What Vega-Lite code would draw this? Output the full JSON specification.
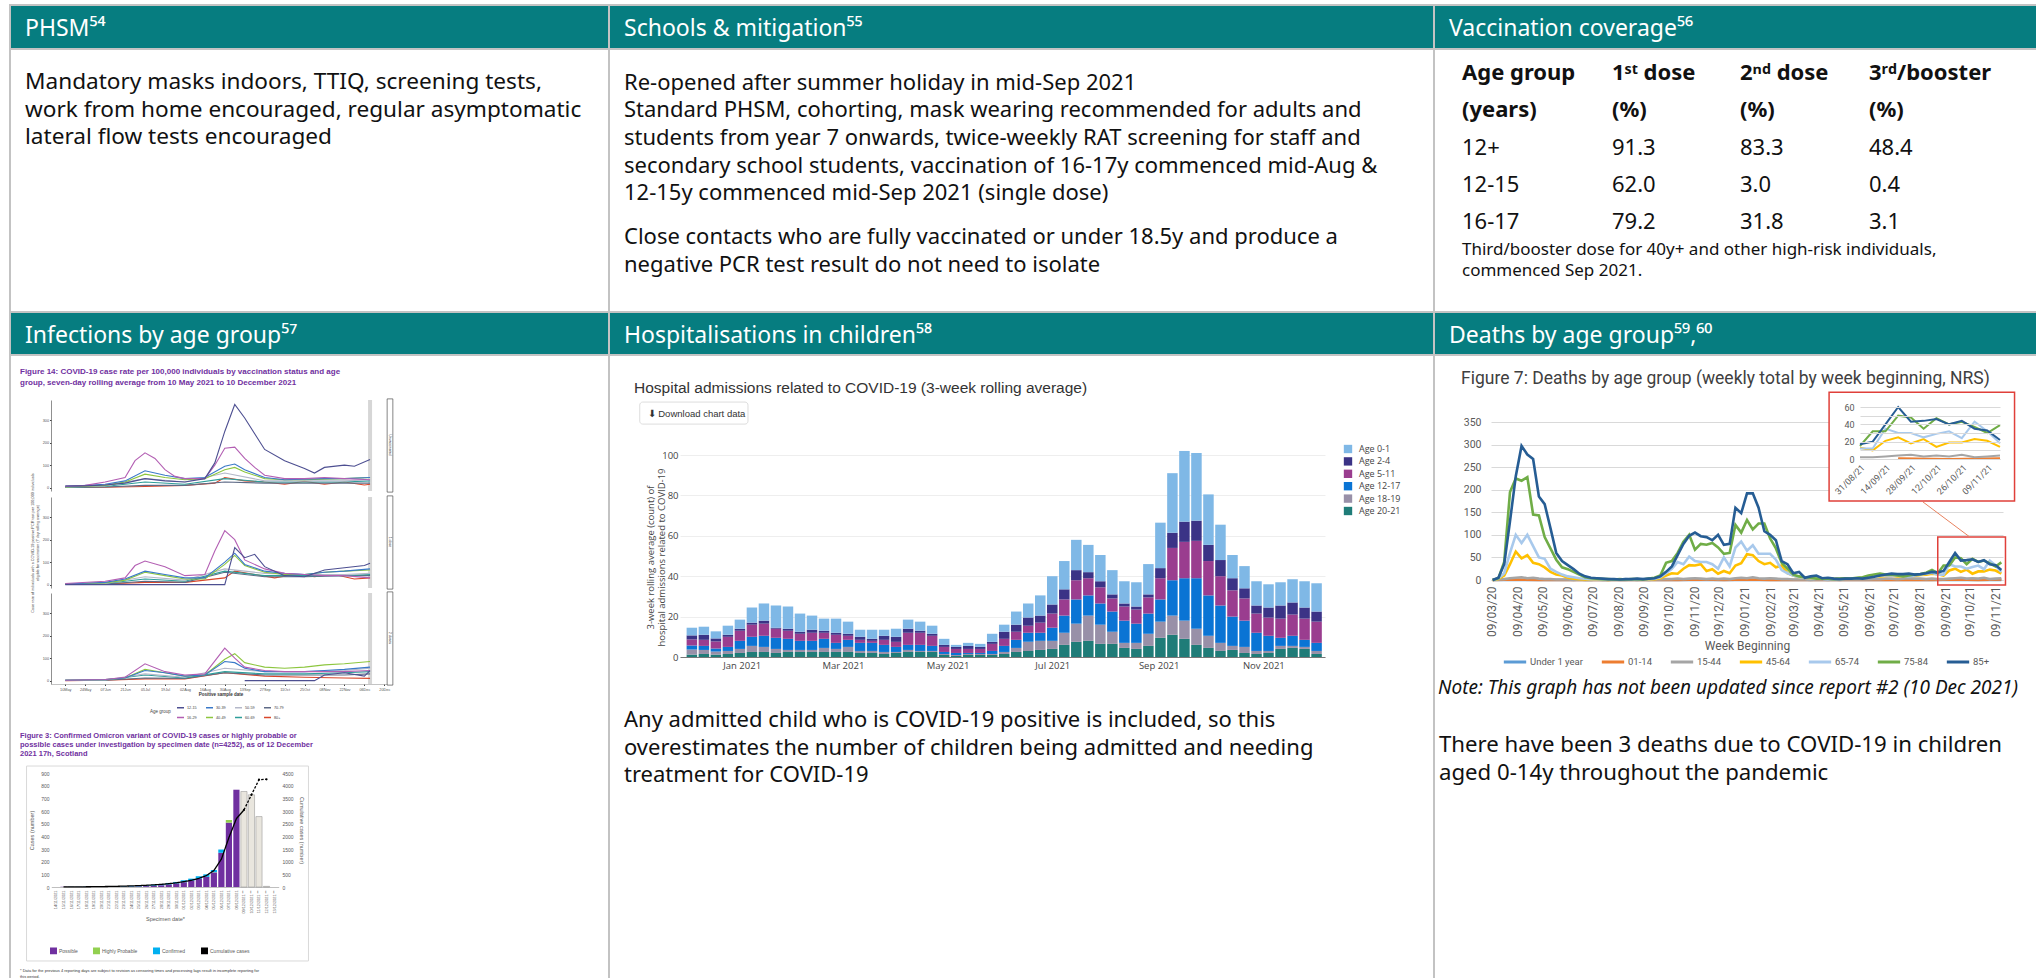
{
"$schema":"https://vega.github.io/schema/vega-lite/v6.json",
"width":2036,"height":978,"autosize":{"type":"none"},"padding":0,"background":"#ffffff",
"config":{"view":{"stroke":null}},
"datasets":{
"ageorder":[{"g":"Age 20-21","o":0},{"g":"Age 18-19","o":1},{"g":"Age 12-17","o":2},{"g":"Age 5-11","o":3},{"g":"Age 2-4","o":4},{"g":"Age 0-1","o":5}],
"hosp":[
{"d":"2020-12-03","g":"Age 20-21","v":1.2},{"d":"2020-12-03","g":"Age 18-19","v":2.5},{"d":"2020-12-03","g":"Age 12-17","v":2},{"d":"2020-12-03","g":"Age 5-11","v":3},{"d":"2020-12-03","g":"Age 2-4","v":2},{"d":"2020-12-03","g":"Age 0-1","v":3.8},
{"d":"2020-12-10","g":"Age 20-21","v":1.5},{"d":"2020-12-10","g":"Age 18-19","v":2},{"d":"2020-12-10","g":"Age 12-17","v":2},{"d":"2020-12-10","g":"Age 5-11","v":3},{"d":"2020-12-10","g":"Age 2-4","v":2.5},{"d":"2020-12-10","g":"Age 0-1","v":4},
{"d":"2020-12-17","g":"Age 20-21","v":1.2},{"d":"2020-12-17","g":"Age 18-19","v":1.5},{"d":"2020-12-17","g":"Age 12-17","v":1.5},{"d":"2020-12-17","g":"Age 5-11","v":3.5},{"d":"2020-12-17","g":"Age 2-4","v":1.5},{"d":"2020-12-17","g":"Age 0-1","v":3.5},
{"d":"2020-12-24","g":"Age 20-21","v":1.5},{"d":"2020-12-24","g":"Age 18-19","v":1.5},{"d":"2020-12-24","g":"Age 12-17","v":2},{"d":"2020-12-24","g":"Age 5-11","v":5},{"d":"2020-12-24","g":"Age 2-4","v":1},{"d":"2020-12-24","g":"Age 0-1","v":4.5},
{"d":"2020-12-31","g":"Age 20-21","v":2},{"d":"2020-12-31","g":"Age 18-19","v":2},{"d":"2020-12-31","g":"Age 12-17","v":4},{"d":"2020-12-31","g":"Age 5-11","v":5},{"d":"2020-12-31","g":"Age 2-4","v":1},{"d":"2020-12-31","g":"Age 0-1","v":4.5},
{"d":"2021-01-07","g":"Age 20-21","v":2.5},{"d":"2021-01-07","g":"Age 18-19","v":3},{"d":"2021-01-07","g":"Age 12-17","v":4.5},{"d":"2021-01-07","g":"Age 5-11","v":6},{"d":"2021-01-07","g":"Age 2-4","v":1},{"d":"2021-01-07","g":"Age 0-1","v":7.5},
{"d":"2021-01-14","g":"Age 20-21","v":2.5},{"d":"2021-01-14","g":"Age 18-19","v":2.5},{"d":"2021-01-14","g":"Age 12-17","v":5.5},{"d":"2021-01-14","g":"Age 5-11","v":6},{"d":"2021-01-14","g":"Age 2-4","v":1.5},{"d":"2021-01-14","g":"Age 0-1","v":8.5},
{"d":"2021-01-21","g":"Age 20-21","v":2},{"d":"2021-01-21","g":"Age 18-19","v":2},{"d":"2021-01-21","g":"Age 12-17","v":5.5},{"d":"2021-01-21","g":"Age 5-11","v":4.5},{"d":"2021-01-21","g":"Age 2-4","v":0.5},{"d":"2021-01-21","g":"Age 0-1","v":11},
{"d":"2021-01-28","g":"Age 20-21","v":2.5},{"d":"2021-01-28","g":"Age 18-19","v":1},{"d":"2021-01-28","g":"Age 12-17","v":5.5},{"d":"2021-01-28","g":"Age 5-11","v":4},{"d":"2021-01-28","g":"Age 2-4","v":1},{"d":"2021-01-28","g":"Age 0-1","v":11},
{"d":"2021-02-04","g":"Age 20-21","v":2.5},{"d":"2021-02-04","g":"Age 18-19","v":1},{"d":"2021-02-04","g":"Age 12-17","v":4.5},{"d":"2021-02-04","g":"Age 5-11","v":3.5},{"d":"2021-02-04","g":"Age 2-4","v":1},{"d":"2021-02-04","g":"Age 0-1","v":9},
{"d":"2021-02-11","g":"Age 20-21","v":2.5},{"d":"2021-02-11","g":"Age 18-19","v":1},{"d":"2021-02-11","g":"Age 12-17","v":4.5},{"d":"2021-02-11","g":"Age 5-11","v":4},{"d":"2021-02-11","g":"Age 2-4","v":1.5},{"d":"2021-02-11","g":"Age 0-1","v":7},
{"d":"2021-02-18","g":"Age 20-21","v":2.5},{"d":"2021-02-18","g":"Age 18-19","v":2},{"d":"2021-02-18","g":"Age 12-17","v":4.5},{"d":"2021-02-18","g":"Age 5-11","v":3},{"d":"2021-02-18","g":"Age 2-4","v":1},{"d":"2021-02-18","g":"Age 0-1","v":6},
{"d":"2021-02-25","g":"Age 20-21","v":2.5},{"d":"2021-02-25","g":"Age 18-19","v":1.5},{"d":"2021-02-25","g":"Age 12-17","v":3},{"d":"2021-02-25","g":"Age 5-11","v":4},{"d":"2021-02-25","g":"Age 2-4","v":1},{"d":"2021-02-25","g":"Age 0-1","v":7},
{"d":"2021-03-04","g":"Age 20-21","v":2.5},{"d":"2021-03-04","g":"Age 18-19","v":2.5},{"d":"2021-03-04","g":"Age 12-17","v":3.5},{"d":"2021-03-04","g":"Age 5-11","v":2},{"d":"2021-03-04","g":"Age 2-4","v":1},{"d":"2021-03-04","g":"Age 0-1","v":6},
{"d":"2021-03-11","g":"Age 20-21","v":2},{"d":"2021-03-11","g":"Age 18-19","v":1},{"d":"2021-03-11","g":"Age 12-17","v":4},{"d":"2021-03-11","g":"Age 5-11","v":1.5},{"d":"2021-03-11","g":"Age 2-4","v":1.5},{"d":"2021-03-11","g":"Age 0-1","v":3.5},
{"d":"2021-03-18","g":"Age 20-21","v":2},{"d":"2021-03-18","g":"Age 18-19","v":1},{"d":"2021-03-18","g":"Age 12-17","v":4},{"d":"2021-03-18","g":"Age 5-11","v":1},{"d":"2021-03-18","g":"Age 2-4","v":1},{"d":"2021-03-18","g":"Age 0-1","v":4.5},
{"d":"2021-03-25","g":"Age 20-21","v":1.5},{"d":"2021-03-25","g":"Age 18-19","v":1},{"d":"2021-03-25","g":"Age 12-17","v":3.5},{"d":"2021-03-25","g":"Age 5-11","v":2.5},{"d":"2021-03-25","g":"Age 2-4","v":2},{"d":"2021-03-25","g":"Age 0-1","v":3},
{"d":"2021-04-01","g":"Age 20-21","v":2},{"d":"2021-04-01","g":"Age 18-19","v":0.5},{"d":"2021-04-01","g":"Age 12-17","v":2.5},{"d":"2021-04-01","g":"Age 5-11","v":2.5},{"d":"2021-04-01","g":"Age 2-4","v":2.5},{"d":"2021-04-01","g":"Age 0-1","v":4},
{"d":"2021-04-08","g":"Age 20-21","v":2.5},{"d":"2021-04-08","g":"Age 18-19","v":1},{"d":"2021-04-08","g":"Age 12-17","v":2.5},{"d":"2021-04-08","g":"Age 5-11","v":6},{"d":"2021-04-08","g":"Age 2-4","v":2},{"d":"2021-04-08","g":"Age 0-1","v":4.5},
{"d":"2021-04-15","g":"Age 20-21","v":2.5},{"d":"2021-04-15","g":"Age 18-19","v":0.5},{"d":"2021-04-15","g":"Age 12-17","v":3},{"d":"2021-04-15","g":"Age 5-11","v":6},{"d":"2021-04-15","g":"Age 2-4","v":1},{"d":"2021-04-15","g":"Age 0-1","v":4.5},
{"d":"2021-04-22","g":"Age 20-21","v":2.5},{"d":"2021-04-22","g":"Age 18-19","v":0.5},{"d":"2021-04-22","g":"Age 12-17","v":2.5},{"d":"2021-04-22","g":"Age 5-11","v":5},{"d":"2021-04-22","g":"Age 2-4","v":1},{"d":"2021-04-22","g":"Age 0-1","v":4},
{"d":"2021-04-29","g":"Age 20-21","v":1},{"d":"2021-04-29","g":"Age 18-19","v":0.5},{"d":"2021-04-29","g":"Age 12-17","v":1},{"d":"2021-04-29","g":"Age 5-11","v":2.5},{"d":"2021-04-29","g":"Age 2-4","v":1},{"d":"2021-04-29","g":"Age 0-1","v":3},
{"d":"2021-05-06","g":"Age 20-21","v":0.5},{"d":"2021-05-06","g":"Age 18-19","v":0.5},{"d":"2021-05-06","g":"Age 12-17","v":1},{"d":"2021-05-06","g":"Age 5-11","v":2},{"d":"2021-05-06","g":"Age 2-4","v":1},{"d":"2021-05-06","g":"Age 0-1","v":1},
{"d":"2021-05-13","g":"Age 20-21","v":1},{"d":"2021-05-13","g":"Age 18-19","v":0.5},{"d":"2021-05-13","g":"Age 12-17","v":0.5},{"d":"2021-05-13","g":"Age 5-11","v":2},{"d":"2021-05-13","g":"Age 2-4","v":1.5},{"d":"2021-05-13","g":"Age 0-1","v":1.5},
{"d":"2021-05-20","g":"Age 20-21","v":1},{"d":"2021-05-20","g":"Age 18-19","v":0.5},{"d":"2021-05-20","g":"Age 12-17","v":0.5},{"d":"2021-05-20","g":"Age 5-11","v":2},{"d":"2021-05-20","g":"Age 2-4","v":1},{"d":"2021-05-20","g":"Age 0-1","v":1.5},
{"d":"2021-05-27","g":"Age 20-21","v":1},{"d":"2021-05-27","g":"Age 18-19","v":0.5},{"d":"2021-05-27","g":"Age 12-17","v":1.5},{"d":"2021-05-27","g":"Age 5-11","v":3.5},{"d":"2021-05-27","g":"Age 2-4","v":1},{"d":"2021-05-27","g":"Age 0-1","v":4},
{"d":"2021-06-03","g":"Age 20-21","v":1.5},{"d":"2021-06-03","g":"Age 18-19","v":1},{"d":"2021-06-03","g":"Age 12-17","v":3},{"d":"2021-06-03","g":"Age 5-11","v":3.5},{"d":"2021-06-03","g":"Age 2-4","v":3.5},{"d":"2021-06-03","g":"Age 0-1","v":3.5},
{"d":"2021-06-10","g":"Age 20-21","v":2.5},{"d":"2021-06-10","g":"Age 18-19","v":2},{"d":"2021-06-10","g":"Age 12-17","v":4},{"d":"2021-06-10","g":"Age 5-11","v":4},{"d":"2021-06-10","g":"Age 2-4","v":3.5},{"d":"2021-06-10","g":"Age 0-1","v":6.5},
{"d":"2021-06-17","g":"Age 20-21","v":3},{"d":"2021-06-17","g":"Age 18-19","v":4.5},{"d":"2021-06-17","g":"Age 12-17","v":4.5},{"d":"2021-06-17","g":"Age 5-11","v":3.5},{"d":"2021-06-17","g":"Age 2-4","v":4},{"d":"2021-06-17","g":"Age 0-1","v":7},
{"d":"2021-06-24","g":"Age 20-21","v":3.5},{"d":"2021-06-24","g":"Age 18-19","v":4.5},{"d":"2021-06-24","g":"Age 12-17","v":4},{"d":"2021-06-24","g":"Age 5-11","v":5},{"d":"2021-06-24","g":"Age 2-4","v":3.5},{"d":"2021-06-24","g":"Age 0-1","v":10},
{"d":"2021-07-01","g":"Age 20-21","v":4},{"d":"2021-07-01","g":"Age 18-19","v":4},{"d":"2021-07-01","g":"Age 12-17","v":6.5},{"d":"2021-07-01","g":"Age 5-11","v":7},{"d":"2021-07-01","g":"Age 2-4","v":4.5},{"d":"2021-07-01","g":"Age 0-1","v":14},
{"d":"2021-07-08","g":"Age 20-21","v":6},{"d":"2021-07-08","g":"Age 18-19","v":6},{"d":"2021-07-08","g":"Age 12-17","v":8.5},{"d":"2021-07-08","g":"Age 5-11","v":8},{"d":"2021-07-08","g":"Age 2-4","v":5},{"d":"2021-07-08","g":"Age 0-1","v":14},
{"d":"2021-07-15","g":"Age 20-21","v":7.5},{"d":"2021-07-15","g":"Age 18-19","v":9},{"d":"2021-07-15","g":"Age 12-17","v":12},{"d":"2021-07-15","g":"Age 5-11","v":9.5},{"d":"2021-07-15","g":"Age 2-4","v":5},{"d":"2021-07-15","g":"Age 0-1","v":15},
{"d":"2021-07-22","g":"Age 20-21","v":8},{"d":"2021-07-22","g":"Age 18-19","v":12.5},{"d":"2021-07-22","g":"Age 12-17","v":10},{"d":"2021-07-22","g":"Age 5-11","v":8.5},{"d":"2021-07-22","g":"Age 2-4","v":3},{"d":"2021-07-22","g":"Age 0-1","v":13.5},
{"d":"2021-07-29","g":"Age 20-21","v":6.5},{"d":"2021-07-29","g":"Age 18-19","v":9.5},{"d":"2021-07-29","g":"Age 12-17","v":10.5},{"d":"2021-07-29","g":"Age 5-11","v":8},{"d":"2021-07-29","g":"Age 2-4","v":3},{"d":"2021-07-29","g":"Age 0-1","v":13},
{"d":"2021-08-05","g":"Age 20-21","v":6.5},{"d":"2021-08-05","g":"Age 18-19","v":6},{"d":"2021-08-05","g":"Age 12-17","v":10},{"d":"2021-08-05","g":"Age 5-11","v":6.5},{"d":"2021-08-05","g":"Age 2-4","v":2},{"d":"2021-08-05","g":"Age 0-1","v":12},
{"d":"2021-08-12","g":"Age 20-21","v":4.5},{"d":"2021-08-12","g":"Age 18-19","v":2.5},{"d":"2021-08-12","g":"Age 12-17","v":11},{"d":"2021-08-12","g":"Age 5-11","v":7},{"d":"2021-08-12","g":"Age 2-4","v":1.5},{"d":"2021-08-12","g":"Age 0-1","v":11},
{"d":"2021-08-19","g":"Age 20-21","v":4},{"d":"2021-08-19","g":"Age 18-19","v":3},{"d":"2021-08-19","g":"Age 12-17","v":9.5},{"d":"2021-08-19","g":"Age 5-11","v":7},{"d":"2021-08-19","g":"Age 2-4","v":1.5},{"d":"2021-08-19","g":"Age 0-1","v":12},
{"d":"2021-08-26","g":"Age 20-21","v":5.5},{"d":"2021-08-26","g":"Age 18-19","v":6},{"d":"2021-08-26","g":"Age 12-17","v":10},{"d":"2021-08-26","g":"Age 5-11","v":8},{"d":"2021-08-26","g":"Age 2-4","v":1.5},{"d":"2021-08-26","g":"Age 0-1","v":15},
{"d":"2021-09-02","g":"Age 20-21","v":9.5},{"d":"2021-09-02","g":"Age 18-19","v":8},{"d":"2021-09-02","g":"Age 12-17","v":11},{"d":"2021-09-02","g":"Age 5-11","v":10.5},{"d":"2021-09-02","g":"Age 2-4","v":5},{"d":"2021-09-02","g":"Age 0-1","v":22.5},
{"d":"2021-09-09","g":"Age 20-21","v":11},{"d":"2021-09-09","g":"Age 18-19","v":9.5},{"d":"2021-09-09","g":"Age 12-17","v":17.5},{"d":"2021-09-09","g":"Age 5-11","v":16},{"d":"2021-09-09","g":"Age 2-4","v":7.5},{"d":"2021-09-09","g":"Age 0-1","v":29.5},
{"d":"2021-09-16","g":"Age 20-21","v":9},{"d":"2021-09-16","g":"Age 18-19","v":9},{"d":"2021-09-16","g":"Age 12-17","v":21},{"d":"2021-09-16","g":"Age 5-11","v":18},{"d":"2021-09-16","g":"Age 2-4","v":10},{"d":"2021-09-16","g":"Age 0-1","v":35},
{"d":"2021-09-23","g":"Age 20-21","v":6},{"d":"2021-09-23","g":"Age 18-19","v":8},{"d":"2021-09-23","g":"Age 12-17","v":25},{"d":"2021-09-23","g":"Age 5-11","v":18.5},{"d":"2021-09-23","g":"Age 2-4","v":10},{"d":"2021-09-23","g":"Age 0-1","v":33.5},
{"d":"2021-09-30","g":"Age 20-21","v":4.5},{"d":"2021-09-30","g":"Age 18-19","v":6},{"d":"2021-09-30","g":"Age 12-17","v":20},{"d":"2021-09-30","g":"Age 5-11","v":17},{"d":"2021-09-30","g":"Age 2-4","v":8},{"d":"2021-09-30","g":"Age 0-1","v":25},
{"d":"2021-10-07","g":"Age 20-21","v":3},{"d":"2021-10-07","g":"Age 18-19","v":4},{"d":"2021-10-07","g":"Age 12-17","v":18.5},{"d":"2021-10-07","g":"Age 5-11","v":14.5},{"d":"2021-10-07","g":"Age 2-4","v":8},{"d":"2021-10-07","g":"Age 0-1","v":17.5},
{"d":"2021-10-14","g":"Age 20-21","v":3.5},{"d":"2021-10-14","g":"Age 18-19","v":2},{"d":"2021-10-14","g":"Age 12-17","v":14.5},{"d":"2021-10-14","g":"Age 5-11","v":13},{"d":"2021-10-14","g":"Age 2-4","v":6},{"d":"2021-10-14","g":"Age 0-1","v":11.5},
{"d":"2021-10-21","g":"Age 20-21","v":2},{"d":"2021-10-21","g":"Age 18-19","v":3},{"d":"2021-10-21","g":"Age 12-17","v":13},{"d":"2021-10-21","g":"Age 5-11","v":11},{"d":"2021-10-21","g":"Age 2-4","v":5},{"d":"2021-10-21","g":"Age 0-1","v":11},
{"d":"2021-10-28","g":"Age 20-21","v":1.5},{"d":"2021-10-28","g":"Age 18-19","v":1.5},{"d":"2021-10-28","g":"Age 12-17","v":9},{"d":"2021-10-28","g":"Age 5-11","v":9.5},{"d":"2021-10-28","g":"Age 2-4","v":4},{"d":"2021-10-28","g":"Age 0-1","v":12},
{"d":"2021-11-04","g":"Age 20-21","v":2},{"d":"2021-11-04","g":"Age 18-19","v":1},{"d":"2021-11-04","g":"Age 12-17","v":7.5},{"d":"2021-11-04","g":"Age 5-11","v":9},{"d":"2021-11-04","g":"Age 2-4","v":5},{"d":"2021-11-04","g":"Age 0-1","v":11.5},
{"d":"2021-11-11","g":"Age 20-21","v":4},{"d":"2021-11-11","g":"Age 18-19","v":1.5},{"d":"2021-11-11","g":"Age 12-17","v":4},{"d":"2021-11-11","g":"Age 5-11","v":9.5},{"d":"2021-11-11","g":"Age 2-4","v":6.5},{"d":"2021-11-11","g":"Age 0-1","v":11.5},
{"d":"2021-11-18","g":"Age 20-21","v":4.5},{"d":"2021-11-18","g":"Age 18-19","v":1},{"d":"2021-11-18","g":"Age 12-17","v":5},{"d":"2021-11-18","g":"Age 5-11","v":10.5},{"d":"2021-11-18","g":"Age 2-4","v":6},{"d":"2021-11-18","g":"Age 0-1","v":11.5},
{"d":"2021-11-25","g":"Age 20-21","v":4},{"d":"2021-11-25","g":"Age 18-19","v":1},{"d":"2021-11-25","g":"Age 12-17","v":3.5},{"d":"2021-11-25","g":"Age 5-11","v":10.5},{"d":"2021-11-25","g":"Age 2-4","v":5.5},{"d":"2021-11-25","g":"Age 0-1","v":13},
{"d":"2021-12-02","g":"Age 20-21","v":1.5},{"d":"2021-12-02","g":"Age 18-19","v":1.5},{"d":"2021-12-02","g":"Age 12-17","v":4},{"d":"2021-12-02","g":"Age 5-11","v":10.5},{"d":"2021-12-02","g":"Age 2-4","v":5},{"d":"2021-12-02","g":"Age 0-1","v":14}
],
"deaths":[
{"d":"2020-03-10","g":"Under 1 year","v":0},{"d":"2020-04-07","g":"Under 1 year","v":0},{"d":"2020-05-05","g":"Under 1 year","v":0},{"d":"2020-06-02","g":"Under 1 year","v":0},{"d":"2020-06-30","g":"Under 1 year","v":0},{"d":"2020-07-28","g":"Under 1 year","v":0},{"d":"2020-08-25","g":"Under 1 year","v":0},{"d":"2020-09-22","g":"Under 1 year","v":0},{"d":"2020-10-20","g":"Under 1 year","v":0},{"d":"2020-11-17","g":"Under 1 year","v":0},{"d":"2020-12-15","g":"Under 1 year","v":0},{"d":"2021-01-12","g":"Under 1 year","v":0},{"d":"2021-02-09","g":"Under 1 year","v":0},{"d":"2021-03-09","g":"Under 1 year","v":0},{"d":"2021-04-06","g":"Under 1 year","v":0},{"d":"2021-05-04","g":"Under 1 year","v":0},{"d":"2021-06-01","g":"Under 1 year","v":0},{"d":"2021-06-29","g":"Under 1 year","v":0},{"d":"2021-07-27","g":"Under 1 year","v":0},{"d":"2021-08-24","g":"Under 1 year","v":0},{"d":"2021-09-21","g":"Under 1 year","v":0},{"d":"2021-10-19","g":"Under 1 year","v":0},{"d":"2021-11-16","g":"Under 1 year","v":0},
{"d":"2020-03-10","g":"01-14","v":0},{"d":"2020-04-07","g":"01-14","v":1},{"d":"2020-05-05","g":"01-14","v":0},{"d":"2020-06-02","g":"01-14","v":0},{"d":"2020-06-30","g":"01-14","v":0},{"d":"2020-07-28","g":"01-14","v":0},{"d":"2020-08-25","g":"01-14","v":0},{"d":"2020-09-22","g":"01-14","v":0},{"d":"2020-10-20","g":"01-14","v":0},{"d":"2020-11-17","g":"01-14","v":1},{"d":"2020-12-15","g":"01-14","v":0},{"d":"2021-01-12","g":"01-14","v":1},{"d":"2021-02-09","g":"01-14","v":0},{"d":"2021-03-09","g":"01-14","v":0},{"d":"2021-04-06","g":"01-14","v":0},{"d":"2021-05-04","g":"01-14","v":0},{"d":"2021-06-01","g":"01-14","v":0},{"d":"2021-06-29","g":"01-14","v":0},{"d":"2021-07-27","g":"01-14","v":0},{"d":"2021-08-24","g":"01-14","v":0},{"d":"2021-09-21","g":"01-14","v":1},{"d":"2021-10-19","g":"01-14","v":0},{"d":"2021-11-16","g":"01-14","v":1},
{"d":"2020-03-10","g":"15-44","v":0},{"d":"2020-03-17","g":"15-44","v":1},{"d":"2020-03-24","g":"15-44","v":2},{"d":"2020-03-31","g":"15-44","v":4},{"d":"2020-04-07","g":"15-44","v":5},{"d":"2020-04-14","g":"15-44","v":6},{"d":"2020-04-21","g":"15-44","v":4},{"d":"2020-04-28","g":"15-44","v":5},{"d":"2020-05-05","g":"15-44","v":3},{"d":"2020-05-12","g":"15-44","v":2},
{"d":"2020-05-19","g":"15-44","v":2},{"d":"2020-05-26","g":"15-44","v":1},{"d":"2020-06-02","g":"15-44","v":1},{"d":"2020-06-09","g":"15-44","v":1},{"d":"2020-06-16","g":"15-44","v":0},{"d":"2020-06-23","g":"15-44","v":1},{"d":"2020-06-30","g":"15-44","v":0},{"d":"2020-07-07","g":"15-44","v":0},{"d":"2020-07-14","g":"15-44","v":1},{"d":"2020-07-21","g":"15-44","v":0},
{"d":"2020-07-28","g":"15-44","v":0},{"d":"2020-08-04","g":"15-44","v":1},{"d":"2020-08-11","g":"15-44","v":0},{"d":"2020-08-18","g":"15-44","v":0},{"d":"2020-08-25","g":"15-44","v":1},{"d":"2020-09-01","g":"15-44","v":0},{"d":"2020-09-08","g":"15-44","v":1},{"d":"2020-09-15","g":"15-44","v":0},{"d":"2020-09-22","g":"15-44","v":1},{"d":"2020-09-29","g":"15-44","v":1},
{"d":"2020-10-06","g":"15-44","v":2},{"d":"2020-10-13","g":"15-44","v":2},{"d":"2020-10-20","g":"15-44","v":3},{"d":"2020-10-27","g":"15-44","v":2},{"d":"2020-11-03","g":"15-44","v":3},{"d":"2020-11-10","g":"15-44","v":4},{"d":"2020-11-17","g":"15-44","v":3},{"d":"2020-11-24","g":"15-44","v":2},{"d":"2020-12-01","g":"15-44","v":3},{"d":"2020-12-08","g":"15-44","v":2},
{"d":"2020-12-15","g":"15-44","v":3},{"d":"2020-12-22","g":"15-44","v":2},{"d":"2020-12-29","g":"15-44","v":4},{"d":"2021-01-05","g":"15-44","v":5},{"d":"2021-01-12","g":"15-44","v":4},{"d":"2021-01-19","g":"15-44","v":6},{"d":"2021-01-26","g":"15-44","v":4},{"d":"2021-02-02","g":"15-44","v":3},{"d":"2021-02-09","g":"15-44","v":4},{"d":"2021-02-16","g":"15-44","v":3},
{"d":"2021-02-23","g":"15-44","v":2},{"d":"2021-03-02","g":"15-44","v":2},{"d":"2021-03-09","g":"15-44","v":1},{"d":"2021-03-16","g":"15-44","v":1},{"d":"2021-03-23","g":"15-44","v":1},{"d":"2021-03-30","g":"15-44","v":0},{"d":"2021-04-06","g":"15-44","v":1},{"d":"2021-04-13","g":"15-44","v":1},{"d":"2021-04-20","g":"15-44","v":0},{"d":"2021-04-27","g":"15-44","v":1},
{"d":"2021-05-04","g":"15-44","v":0},{"d":"2021-05-11","g":"15-44","v":1},{"d":"2021-05-18","g":"15-44","v":1},{"d":"2021-05-25","g":"15-44","v":1},{"d":"2021-06-01","g":"15-44","v":1},{"d":"2021-06-08","g":"15-44","v":1},{"d":"2021-06-15","g":"15-44","v":2},{"d":"2021-06-22","g":"15-44","v":2},{"d":"2021-06-29","g":"15-44","v":3},{"d":"2021-07-06","g":"15-44","v":3},
{"d":"2021-07-13","g":"15-44","v":2},{"d":"2021-07-20","g":"15-44","v":3},{"d":"2021-07-27","g":"15-44","v":4},{"d":"2021-08-03","g":"15-44","v":3},{"d":"2021-08-10","g":"15-44","v":3},{"d":"2021-08-17","g":"15-44","v":2},{"d":"2021-08-24","g":"15-44","v":3},{"d":"2021-08-31","g":"15-44","v":2},{"d":"2021-09-07","g":"15-44","v":2},{"d":"2021-09-14","g":"15-44","v":3},
{"d":"2021-09-21","g":"15-44","v":4},{"d":"2021-09-28","g":"15-44","v":5},{"d":"2021-10-05","g":"15-44","v":3},{"d":"2021-10-12","g":"15-44","v":4},{"d":"2021-10-19","g":"15-44","v":3},{"d":"2021-10-26","g":"15-44","v":5},{"d":"2021-11-02","g":"15-44","v":2},{"d":"2021-11-09","g":"15-44","v":3},{"d":"2021-11-16","g":"15-44","v":4},
{"d":"2020-03-10","g":"45-64","v":0},{"d":"2020-03-17","g":"45-64","v":2},{"d":"2020-03-24","g":"45-64","v":10},{"d":"2020-03-31","g":"45-64","v":35},{"d":"2020-04-07","g":"45-64","v":63},{"d":"2020-04-14","g":"45-64","v":48},{"d":"2020-04-21","g":"45-64","v":55},{"d":"2020-04-28","g":"45-64","v":38},{"d":"2020-05-05","g":"45-64","v":35},{"d":"2020-05-12","g":"45-64","v":28},
{"d":"2020-05-19","g":"45-64","v":18},{"d":"2020-05-26","g":"45-64","v":12},{"d":"2020-06-02","g":"45-64","v":10},{"d":"2020-06-09","g":"45-64","v":5},{"d":"2020-06-16","g":"45-64","v":3},{"d":"2020-06-23","g":"45-64","v":2},{"d":"2020-06-30","g":"45-64","v":1},{"d":"2020-07-07","g":"45-64","v":1},{"d":"2020-07-14","g":"45-64","v":1},{"d":"2020-07-21","g":"45-64","v":1},
{"d":"2020-07-28","g":"45-64","v":0},{"d":"2020-08-04","g":"45-64","v":1},{"d":"2020-08-11","g":"45-64","v":1},{"d":"2020-08-18","g":"45-64","v":1},{"d":"2020-08-25","g":"45-64","v":1},{"d":"2020-09-01","g":"45-64","v":1},{"d":"2020-09-08","g":"45-64","v":1},{"d":"2020-09-15","g":"45-64","v":1},{"d":"2020-09-22","g":"45-64","v":2},{"d":"2020-09-29","g":"45-64","v":4},
{"d":"2020-10-06","g":"45-64","v":10},{"d":"2020-10-13","g":"45-64","v":15},{"d":"2020-10-20","g":"45-64","v":14},{"d":"2020-10-27","g":"45-64","v":25},{"d":"2020-11-03","g":"45-64","v":33},{"d":"2020-11-10","g":"45-64","v":32},{"d":"2020-11-17","g":"45-64","v":35},{"d":"2020-11-24","g":"45-64","v":20},{"d":"2020-12-01","g":"45-64","v":24},{"d":"2020-12-08","g":"45-64","v":14},
{"d":"2020-12-15","g":"45-64","v":20},{"d":"2020-12-22","g":"45-64","v":15},{"d":"2020-12-29","g":"45-64","v":32},{"d":"2021-01-05","g":"45-64","v":37},{"d":"2021-01-12","g":"45-64","v":57},{"d":"2021-01-19","g":"45-64","v":55},{"d":"2021-01-26","g":"45-64","v":42},{"d":"2021-02-02","g":"45-64","v":35},{"d":"2021-02-09","g":"45-64","v":38},{"d":"2021-02-16","g":"45-64","v":28},
{"d":"2021-02-23","g":"45-64","v":32},{"d":"2021-03-02","g":"45-64","v":15},{"d":"2021-03-09","g":"45-64","v":10},{"d":"2021-03-16","g":"45-64","v":6},{"d":"2021-03-23","g":"45-64","v":5},{"d":"2021-03-30","g":"45-64","v":4},{"d":"2021-04-06","g":"45-64","v":3},{"d":"2021-04-13","g":"45-64","v":3},{"d":"2021-04-20","g":"45-64","v":3},{"d":"2021-04-27","g":"45-64","v":4},
{"d":"2021-05-04","g":"45-64","v":2},{"d":"2021-05-11","g":"45-64","v":3},{"d":"2021-05-18","g":"45-64","v":3},{"d":"2021-05-25","g":"45-64","v":4},{"d":"2021-06-01","g":"45-64","v":5},{"d":"2021-06-08","g":"45-64","v":8},{"d":"2021-06-15","g":"45-64","v":10},{"d":"2021-06-22","g":"45-64","v":8},{"d":"2021-06-29","g":"45-64","v":9},{"d":"2021-07-06","g":"45-64","v":10},
{"d":"2021-07-13","g":"45-64","v":8},{"d":"2021-07-20","g":"45-64","v":9},{"d":"2021-07-27","g":"45-64","v":10},{"d":"2021-08-03","g":"45-64","v":9},{"d":"2021-08-10","g":"45-64","v":11},{"d":"2021-08-17","g":"45-64","v":12},{"d":"2021-08-24","g":"45-64","v":14},{"d":"2021-08-31","g":"45-64","v":13},{"d":"2021-09-07","g":"45-64","v":10},{"d":"2021-09-14","g":"45-64","v":21},
{"d":"2021-09-21","g":"45-64","v":25},{"d":"2021-09-28","g":"45-64","v":18},{"d":"2021-10-05","g":"45-64","v":23},{"d":"2021-10-12","g":"45-64","v":14},{"d":"2021-10-19","g":"45-64","v":19},{"d":"2021-10-26","g":"45-64","v":19},{"d":"2021-11-02","g":"45-64","v":23},{"d":"2021-11-09","g":"45-64","v":21},{"d":"2021-11-16","g":"45-64","v":14},
{"d":"2020-03-10","g":"65-74","v":0},{"d":"2020-03-17","g":"65-74","v":3},{"d":"2020-03-24","g":"65-74","v":15},{"d":"2020-03-31","g":"65-74","v":60},{"d":"2020-04-07","g":"65-74","v":100},{"d":"2020-04-14","g":"65-74","v":82},{"d":"2020-04-21","g":"65-74","v":100},{"d":"2020-04-28","g":"65-74","v":75},{"d":"2020-05-05","g":"65-74","v":50},{"d":"2020-05-12","g":"65-74","v":47},
{"d":"2020-05-19","g":"65-74","v":25},{"d":"2020-05-26","g":"65-74","v":18},{"d":"2020-06-02","g":"65-74","v":12},{"d":"2020-06-09","g":"65-74","v":8},{"d":"2020-06-16","g":"65-74","v":6},{"d":"2020-06-23","g":"65-74","v":4},{"d":"2020-06-30","g":"65-74","v":3},{"d":"2020-07-07","g":"65-74","v":2},{"d":"2020-07-14","g":"65-74","v":2},{"d":"2020-07-21","g":"65-74","v":1},
{"d":"2020-07-28","g":"65-74","v":1},{"d":"2020-08-04","g":"65-74","v":1},{"d":"2020-08-11","g":"65-74","v":1},{"d":"2020-08-18","g":"65-74","v":2},{"d":"2020-08-25","g":"65-74","v":1},{"d":"2020-09-01","g":"65-74","v":1},{"d":"2020-09-08","g":"65-74","v":2},{"d":"2020-09-15","g":"65-74","v":2},{"d":"2020-09-22","g":"65-74","v":3},{"d":"2020-09-29","g":"65-74","v":6},
{"d":"2020-10-06","g":"65-74","v":15},{"d":"2020-10-13","g":"65-74","v":25},{"d":"2020-10-20","g":"65-74","v":40},{"d":"2020-10-27","g":"65-74","v":35},{"d":"2020-11-03","g":"65-74","v":52},{"d":"2020-11-10","g":"65-74","v":42},{"d":"2020-11-17","g":"65-74","v":40},{"d":"2020-11-24","g":"65-74","v":40},{"d":"2020-12-01","g":"65-74","v":35},{"d":"2020-12-08","g":"65-74","v":25},
{"d":"2020-12-15","g":"65-74","v":50},{"d":"2020-12-22","g":"65-74","v":30},{"d":"2020-12-29","g":"65-74","v":72},{"d":"2021-01-05","g":"65-74","v":85},{"d":"2021-01-12","g":"65-74","v":65},{"d":"2021-01-19","g":"65-74","v":77},{"d":"2021-01-26","g":"65-74","v":58},{"d":"2021-02-02","g":"65-74","v":58},{"d":"2021-02-09","g":"65-74","v":58},{"d":"2021-02-16","g":"65-74","v":45},
{"d":"2021-02-23","g":"65-74","v":22},{"d":"2021-03-02","g":"65-74","v":15},{"d":"2021-03-09","g":"65-74","v":10},{"d":"2021-03-16","g":"65-74","v":6},{"d":"2021-03-23","g":"65-74","v":5},{"d":"2021-03-30","g":"65-74","v":4},{"d":"2021-04-06","g":"65-74","v":3},{"d":"2021-04-13","g":"65-74","v":3},{"d":"2021-04-20","g":"65-74","v":2},{"d":"2021-04-27","g":"65-74","v":3},
{"d":"2021-05-04","g":"65-74","v":2},{"d":"2021-05-11","g":"65-74","v":3},{"d":"2021-05-18","g":"65-74","v":3},{"d":"2021-05-25","g":"65-74","v":4},{"d":"2021-06-01","g":"65-74","v":5},{"d":"2021-06-08","g":"65-74","v":8},{"d":"2021-06-15","g":"65-74","v":10},{"d":"2021-06-22","g":"65-74","v":10},{"d":"2021-06-29","g":"65-74","v":10},{"d":"2021-07-06","g":"65-74","v":10},
{"d":"2021-07-13","g":"65-74","v":10},{"d":"2021-07-20","g":"65-74","v":10},{"d":"2021-07-27","g":"65-74","v":8},{"d":"2021-08-03","g":"65-74","v":10},{"d":"2021-08-10","g":"65-74","v":12},{"d":"2021-08-17","g":"65-74","v":14},{"d":"2021-08-24","g":"65-74","v":16},{"d":"2021-08-31","g":"65-74","v":12},{"d":"2021-09-07","g":"65-74","v":12},{"d":"2021-09-14","g":"65-74","v":35},
{"d":"2021-09-21","g":"65-74","v":30},{"d":"2021-09-28","g":"65-74","v":30},{"d":"2021-10-05","g":"65-74","v":25},{"d":"2021-10-12","g":"65-74","v":29},{"d":"2021-10-19","g":"65-74","v":32},{"d":"2021-10-26","g":"65-74","v":24},{"d":"2021-11-02","g":"65-74","v":43},{"d":"2021-11-09","g":"65-74","v":32},{"d":"2021-11-16","g":"65-74","v":18},
{"d":"2020-03-10","g":"75-84","v":0},{"d":"2020-03-17","g":"75-84","v":4},{"d":"2020-03-24","g":"75-84","v":40},{"d":"2020-03-31","g":"75-84","v":195},{"d":"2020-04-07","g":"75-84","v":225},{"d":"2020-04-14","g":"75-84","v":220},{"d":"2020-04-21","g":"75-84","v":228},{"d":"2020-04-28","g":"75-84","v":145},{"d":"2020-05-05","g":"75-84","v":143},{"d":"2020-05-12","g":"75-84","v":95},
{"d":"2020-05-19","g":"75-84","v":70},{"d":"2020-05-26","g":"75-84","v":45},{"d":"2020-06-02","g":"75-84","v":28},{"d":"2020-06-09","g":"75-84","v":24},{"d":"2020-06-16","g":"75-84","v":18},{"d":"2020-06-23","g":"75-84","v":12},{"d":"2020-06-30","g":"75-84","v":6},{"d":"2020-07-07","g":"75-84","v":4},{"d":"2020-07-14","g":"75-84","v":3},{"d":"2020-07-21","g":"75-84","v":2},
{"d":"2020-07-28","g":"75-84","v":2},{"d":"2020-08-04","g":"75-84","v":1},{"d":"2020-08-11","g":"75-84","v":2},{"d":"2020-08-18","g":"75-84","v":1},{"d":"2020-08-25","g":"75-84","v":2},{"d":"2020-09-01","g":"75-84","v":2},{"d":"2020-09-08","g":"75-84","v":1},{"d":"2020-09-15","g":"75-84","v":3},{"d":"2020-09-22","g":"75-84","v":5},{"d":"2020-09-29","g":"75-84","v":10},
{"d":"2020-10-06","g":"75-84","v":38},{"d":"2020-10-13","g":"75-84","v":42},{"d":"2020-10-20","g":"75-84","v":60},{"d":"2020-10-27","g":"75-84","v":85},{"d":"2020-11-03","g":"75-84","v":100},{"d":"2020-11-10","g":"75-84","v":67},{"d":"2020-11-17","g":"75-84","v":80},{"d":"2020-11-24","g":"75-84","v":78},{"d":"2020-12-01","g":"75-84","v":82},{"d":"2020-12-08","g":"75-84","v":72},
{"d":"2020-12-15","g":"75-84","v":58},{"d":"2020-12-22","g":"75-84","v":60},{"d":"2020-12-29","g":"75-84","v":122},{"d":"2021-01-05","g":"75-84","v":105},{"d":"2021-01-12","g":"75-84","v":133},{"d":"2021-01-19","g":"75-84","v":112},{"d":"2021-01-26","g":"75-84","v":125},{"d":"2021-02-02","g":"75-84","v":125},{"d":"2021-02-09","g":"75-84","v":92},{"d":"2021-02-16","g":"75-84","v":70},
{"d":"2021-02-23","g":"75-84","v":38},{"d":"2021-03-02","g":"75-84","v":25},{"d":"2021-03-09","g":"75-84","v":12},{"d":"2021-03-16","g":"75-84","v":8},{"d":"2021-03-23","g":"75-84","v":6},{"d":"2021-03-30","g":"75-84","v":5},{"d":"2021-04-06","g":"75-84","v":3},{"d":"2021-04-13","g":"75-84","v":3},{"d":"2021-04-20","g":"75-84","v":3},{"d":"2021-04-27","g":"75-84","v":2},
{"d":"2021-05-04","g":"75-84","v":3},{"d":"2021-05-11","g":"75-84","v":4},{"d":"2021-05-18","g":"75-84","v":3},{"d":"2021-05-25","g":"75-84","v":5},{"d":"2021-06-01","g":"75-84","v":6},{"d":"2021-06-08","g":"75-84","v":10},{"d":"2021-06-15","g":"75-84","v":12},{"d":"2021-06-22","g":"75-84","v":14},{"d":"2021-06-29","g":"75-84","v":12},{"d":"2021-07-06","g":"75-84","v":12},
{"d":"2021-07-13","g":"75-84","v":10},{"d":"2021-07-20","g":"75-84","v":8},{"d":"2021-07-27","g":"75-84","v":10},{"d":"2021-08-03","g":"75-84","v":12},{"d":"2021-08-10","g":"75-84","v":13},{"d":"2021-08-17","g":"75-84","v":16},{"d":"2021-08-24","g":"75-84","v":22},{"d":"2021-08-31","g":"75-84","v":15},{"d":"2021-09-07","g":"75-84","v":32},{"d":"2021-09-14","g":"75-84","v":32},
{"d":"2021-09-21","g":"75-84","v":50},{"d":"2021-09-28","g":"75-84","v":48},{"d":"2021-10-05","g":"75-84","v":35},{"d":"2021-10-12","g":"75-84","v":47},{"d":"2021-10-19","g":"75-84","v":40},{"d":"2021-10-26","g":"75-84","v":43},{"d":"2021-11-02","g":"75-84","v":37},{"d":"2021-11-09","g":"75-84","v":30},{"d":"2021-11-16","g":"75-84","v":39},
{"d":"2020-03-10","g":"85+","v":0},{"d":"2020-03-17","g":"85+","v":5},{"d":"2020-03-24","g":"85+","v":35},{"d":"2020-03-31","g":"85+","v":130},{"d":"2020-04-07","g":"85+","v":230},{"d":"2020-04-14","g":"85+","v":297},{"d":"2020-04-21","g":"85+","v":278},{"d":"2020-04-28","g":"85+","v":268},{"d":"2020-05-05","g":"85+","v":185},{"d":"2020-05-12","g":"85+","v":168},
{"d":"2020-05-19","g":"85+","v":115},{"d":"2020-05-26","g":"85+","v":60},{"d":"2020-06-02","g":"85+","v":42},{"d":"2020-06-09","g":"85+","v":33},{"d":"2020-06-16","g":"85+","v":24},{"d":"2020-06-23","g":"85+","v":14},{"d":"2020-06-30","g":"85+","v":8},{"d":"2020-07-07","g":"85+","v":5},{"d":"2020-07-14","g":"85+","v":4},{"d":"2020-07-21","g":"85+","v":3},
{"d":"2020-07-28","g":"85+","v":2},{"d":"2020-08-04","g":"85+","v":2},{"d":"2020-08-11","g":"85+","v":1},{"d":"2020-08-18","g":"85+","v":2},{"d":"2020-08-25","g":"85+","v":2},{"d":"2020-09-01","g":"85+","v":3},{"d":"2020-09-08","g":"85+","v":2},{"d":"2020-09-15","g":"85+","v":3},{"d":"2020-09-22","g":"85+","v":4},{"d":"2020-09-29","g":"85+","v":8},
{"d":"2020-10-06","g":"85+","v":18},{"d":"2020-10-13","g":"85+","v":30},{"d":"2020-10-20","g":"85+","v":55},{"d":"2020-10-27","g":"85+","v":80},{"d":"2020-11-03","g":"85+","v":98},{"d":"2020-11-10","g":"85+","v":105},{"d":"2020-11-17","g":"85+","v":97},{"d":"2020-11-24","g":"85+","v":95},{"d":"2020-12-01","g":"85+","v":88},{"d":"2020-12-08","g":"85+","v":100},
{"d":"2020-12-15","g":"85+","v":78},{"d":"2020-12-22","g":"85+","v":80},{"d":"2020-12-29","g":"85+","v":160},{"d":"2021-01-05","g":"85+","v":148},{"d":"2021-01-12","g":"85+","v":192},{"d":"2021-01-19","g":"85+","v":192},{"d":"2021-01-26","g":"85+","v":160},{"d":"2021-02-02","g":"85+","v":108},{"d":"2021-02-09","g":"85+","v":100},{"d":"2021-02-16","g":"85+","v":88},
{"d":"2021-02-23","g":"85+","v":42},{"d":"2021-03-02","g":"85+","v":35},{"d":"2021-03-09","g":"85+","v":15},{"d":"2021-03-16","g":"85+","v":18},{"d":"2021-03-23","g":"85+","v":5},{"d":"2021-03-30","g":"85+","v":8},{"d":"2021-04-06","g":"85+","v":10},{"d":"2021-04-13","g":"85+","v":4},{"d":"2021-04-20","g":"85+","v":5},{"d":"2021-04-27","g":"85+","v":3},
{"d":"2021-05-04","g":"85+","v":2},{"d":"2021-05-11","g":"85+","v":3},{"d":"2021-05-18","g":"85+","v":3},{"d":"2021-05-25","g":"85+","v":4},{"d":"2021-06-01","g":"85+","v":3},{"d":"2021-06-08","g":"85+","v":5},{"d":"2021-06-15","g":"85+","v":7},{"d":"2021-06-22","g":"85+","v":10},{"d":"2021-06-29","g":"85+","v":12},{"d":"2021-07-06","g":"85+","v":14},
{"d":"2021-07-13","g":"85+","v":13},{"d":"2021-07-20","g":"85+","v":13},{"d":"2021-07-27","g":"85+","v":14},{"d":"2021-08-03","g":"85+","v":12},{"d":"2021-08-10","g":"85+","v":13},{"d":"2021-08-17","g":"85+","v":15},{"d":"2021-08-24","g":"85+","v":18},{"d":"2021-08-31","g":"85+","v":17},{"d":"2021-09-07","g":"85+","v":20},{"d":"2021-09-14","g":"85+","v":40},
{"d":"2021-09-21","g":"85+","v":60},{"d":"2021-09-28","g":"85+","v":43},{"d":"2021-10-05","g":"85+","v":44},{"d":"2021-10-12","g":"85+","v":46},{"d":"2021-10-19","g":"85+","v":40},{"d":"2021-10-26","g":"85+","v":44},{"d":"2021-11-02","g":"85+","v":35},{"d":"2021-11-09","g":"85+","v":33},{"d":"2021-11-16","g":"85+","v":22}
],
"inf":[
{"p":"U","g":"80+","d":"2021-05-10","v":1},{"p":"U","g":"80+","d":"2021-06-07","v":2},{"p":"U","g":"80+","d":"2021-07-05","v":5},{"p":"U","g":"80+","d":"2021-08-02","v":10},{"p":"U","g":"80+","d":"2021-08-23","v":20},{"p":"U","g":"80+","d":"2021-08-30","v":45},{"p":"U","g":"80+","d":"2021-09-13","v":30},{"p":"U","g":"80+","d":"2021-09-27","v":25},{"p":"U","g":"80+","d":"2021-10-11","v":15},{"p":"U","g":"80+","d":"2021-10-25","v":28},{"p":"U","g":"80+","d":"2021-11-08","v":15},{"p":"U","g":"80+","d":"2021-11-22","v":25},{"p":"U","g":"80+","d":"2021-12-06","v":12},{"p":"U","g":"80+","d":"2021-12-10","v":15},
{"p":"U","g":"70-79","d":"2021-05-10","v":1},{"p":"U","g":"70-79","d":"2021-06-07","v":3},{"p":"U","g":"70-79","d":"2021-07-05","v":10},{"p":"U","g":"70-79","d":"2021-08-02","v":10},{"p":"U","g":"70-79","d":"2021-08-30","v":25},{"p":"U","g":"70-79","d":"2021-09-27","v":20},{"p":"U","g":"70-79","d":"2021-10-25","v":20},{"p":"U","g":"70-79","d":"2021-11-22","v":20},{"p":"U","g":"70-79","d":"2021-12-10","v":20},
{"p":"U","g":"60-69","d":"2021-05-10","v":2},{"p":"U","g":"60-69","d":"2021-06-07","v":5},{"p":"U","g":"60-69","d":"2021-07-05","v":25},{"p":"U","g":"60-69","d":"2021-08-02","v":15},{"p":"U","g":"60-69","d":"2021-08-30","v":40},{"p":"U","g":"60-69","d":"2021-09-27","v":25},{"p":"U","g":"60-69","d":"2021-10-25","v":25},{"p":"U","g":"60-69","d":"2021-11-22","v":25},{"p":"U","g":"60-69","d":"2021-12-10","v":30},
{"p":"U","g":"50-59","d":"2021-05-10","v":3},{"p":"U","g":"50-59","d":"2021-06-07","v":8},{"p":"U","g":"50-59","d":"2021-07-05","v":40},{"p":"U","g":"50-59","d":"2021-08-02","v":25},{"p":"U","g":"50-59","d":"2021-08-30","v":65},{"p":"U","g":"50-59","d":"2021-09-27","v":30},{"p":"U","g":"50-59","d":"2021-10-25","v":30},{"p":"U","g":"50-59","d":"2021-11-22","v":30},{"p":"U","g":"50-59","d":"2021-12-10","v":35},
{"p":"U","g":"40-49","d":"2021-05-10","v":3},{"p":"U","g":"40-49","d":"2021-06-07","v":10},{"p":"U","g":"40-49","d":"2021-06-21","v":25},{"p":"U","g":"40-49","d":"2021-07-05","v":60},{"p":"U","g":"40-49","d":"2021-07-19","v":45},{"p":"U","g":"40-49","d":"2021-08-02","v":35},{"p":"U","g":"40-49","d":"2021-08-16","v":40},{"p":"U","g":"40-49","d":"2021-08-30","v":80},{"p":"U","g":"40-49","d":"2021-09-06","v":90},{"p":"U","g":"40-49","d":"2021-09-13","v":70},{"p":"U","g":"40-49","d":"2021-09-27","v":40},{"p":"U","g":"40-49","d":"2021-10-11","v":35},{"p":"U","g":"40-49","d":"2021-10-25","v":35},{"p":"U","g":"40-49","d":"2021-11-08","v":38},{"p":"U","g":"40-49","d":"2021-11-22","v":40},{"p":"U","g":"40-49","d":"2021-12-10","v":45},
{"p":"U","g":"30-39","d":"2021-05-10","v":5},{"p":"U","g":"30-39","d":"2021-06-07","v":15},{"p":"U","g":"30-39","d":"2021-06-21","v":30},{"p":"U","g":"30-39","d":"2021-07-05","v":75},{"p":"U","g":"30-39","d":"2021-07-19","v":55},{"p":"U","g":"30-39","d":"2021-08-02","v":40},{"p":"U","g":"30-39","d":"2021-08-16","v":45},{"p":"U","g":"30-39","d":"2021-08-30","v":95},{"p":"U","g":"30-39","d":"2021-09-06","v":105},{"p":"U","g":"30-39","d":"2021-09-13","v":80},{"p":"U","g":"30-39","d":"2021-09-27","v":45},{"p":"U","g":"30-39","d":"2021-10-11","v":35},{"p":"U","g":"30-39","d":"2021-10-25","v":38},{"p":"U","g":"30-39","d":"2021-11-08","v":40},{"p":"U","g":"30-39","d":"2021-11-22","v":40},{"p":"U","g":"30-39","d":"2021-12-10","v":45},
{"p":"U","g":"16-29","d":"2021-05-10","v":5},{"p":"U","g":"16-29","d":"2021-05-24","v":10},{"p":"U","g":"16-29","d":"2021-06-07","v":25},{"p":"U","g":"16-29","d":"2021-06-21","v":45},{"p":"U","g":"16-29","d":"2021-06-28","v":120},{"p":"U","g":"16-29","d":"2021-07-05","v":155},{"p":"U","g":"16-29","d":"2021-07-12","v":130},{"p":"U","g":"16-29","d":"2021-07-19","v":80},{"p":"U","g":"16-29","d":"2021-07-26","v":50},{"p":"U","g":"16-29","d":"2021-08-02","v":40},{"p":"U","g":"16-29","d":"2021-08-16","v":40},{"p":"U","g":"16-29","d":"2021-08-23","v":100},{"p":"U","g":"16-29","d":"2021-08-30","v":175},{"p":"U","g":"16-29","d":"2021-09-06","v":180},{"p":"U","g":"16-29","d":"2021-09-13","v":130},{"p":"U","g":"16-29","d":"2021-09-20","v":90},{"p":"U","g":"16-29","d":"2021-09-27","v":55},{"p":"U","g":"16-29","d":"2021-10-11","v":40},{"p":"U","g":"16-29","d":"2021-10-25","v":40},{"p":"U","g":"16-29","d":"2021-11-08","v":45},{"p":"U","g":"16-29","d":"2021-11-22","v":40},{"p":"U","g":"16-29","d":"2021-12-10","v":35},
{"p":"U","g":"12-15","d":"2021-05-10","v":8},{"p":"U","g":"12-15","d":"2021-05-24","v":8},{"p":"U","g":"12-15","d":"2021-06-07","v":12},{"p":"U","g":"12-15","d":"2021-06-21","v":20},{"p":"U","g":"12-15","d":"2021-07-05","v":40},{"p":"U","g":"12-15","d":"2021-07-19","v":30},{"p":"U","g":"12-15","d":"2021-08-02","v":25},{"p":"U","g":"12-15","d":"2021-08-16","v":40},{"p":"U","g":"12-15","d":"2021-08-23","v":110},{"p":"U","g":"12-15","d":"2021-08-30","v":250},{"p":"U","g":"12-15","d":"2021-09-06","v":370},{"p":"U","g":"12-15","d":"2021-09-13","v":310},{"p":"U","g":"12-15","d":"2021-09-20","v":240},{"p":"U","g":"12-15","d":"2021-09-27","v":170},{"p":"U","g":"12-15","d":"2021-10-11","v":120},{"p":"U","g":"12-15","d":"2021-10-25","v":85},{"p":"U","g":"12-15","d":"2021-11-01","v":65},{"p":"U","g":"12-15","d":"2021-11-08","v":90},{"p":"U","g":"12-15","d":"2021-11-22","v":100},{"p":"U","g":"12-15","d":"2021-11-29","v":95},{"p":"U","g":"12-15","d":"2021-12-10","v":125},
{"p":"D1","g":"80+","d":"2021-05-10","v":1},{"p":"D1","g":"80+","d":"2021-06-07","v":3},{"p":"D1","g":"80+","d":"2021-07-05","v":10},{"p":"D1","g":"80+","d":"2021-08-02","v":10},{"p":"D1","g":"80+","d":"2021-08-30","v":30},{"p":"D1","g":"80+","d":"2021-09-06","v":60},{"p":"D1","g":"80+","d":"2021-09-20","v":45},{"p":"D1","g":"80+","d":"2021-10-04","v":30},{"p":"D1","g":"80+","d":"2021-10-18","v":45},{"p":"D1","g":"80+","d":"2021-11-01","v":35},{"p":"D1","g":"80+","d":"2021-11-15","v":45},{"p":"D1","g":"80+","d":"2021-11-29","v":25},{"p":"D1","g":"80+","d":"2021-12-10","v":30},
{"p":"D1","g":"70-79","d":"2021-05-10","v":1},{"p":"D1","g":"70-79","d":"2021-06-07","v":3},{"p":"D1","g":"70-79","d":"2021-07-05","v":15},{"p":"D1","g":"70-79","d":"2021-08-02","v":10},{"p":"D1","g":"70-79","d":"2021-08-30","v":55},{"p":"D1","g":"70-79","d":"2021-09-27","v":35},{"p":"D1","g":"70-79","d":"2021-10-25","v":35},{"p":"D1","g":"70-79","d":"2021-11-22","v":40},{"p":"D1","g":"70-79","d":"2021-12-10","v":40},
{"p":"D1","g":"60-69","d":"2021-05-10","v":2},{"p":"D1","g":"60-69","d":"2021-06-07","v":5},{"p":"D1","g":"60-69","d":"2021-07-05","v":25},{"p":"D1","g":"60-69","d":"2021-08-02","v":15},{"p":"D1","g":"60-69","d":"2021-08-30","v":60},{"p":"D1","g":"60-69","d":"2021-09-27","v":40},{"p":"D1","g":"60-69","d":"2021-10-25","v":40},{"p":"D1","g":"60-69","d":"2021-11-22","v":40},{"p":"D1","g":"60-69","d":"2021-12-10","v":45},
{"p":"D1","g":"50-59","d":"2021-05-10","v":2},{"p":"D1","g":"50-59","d":"2021-06-07","v":5},{"p":"D1","g":"50-59","d":"2021-07-05","v":35},{"p":"D1","g":"50-59","d":"2021-08-02","v":20},{"p":"D1","g":"50-59","d":"2021-08-30","v":70},{"p":"D1","g":"50-59","d":"2021-09-27","v":50},{"p":"D1","g":"50-59","d":"2021-10-25","v":45},{"p":"D1","g":"50-59","d":"2021-11-22","v":45},{"p":"D1","g":"50-59","d":"2021-12-10","v":50},
{"p":"D1","g":"40-49","d":"2021-05-10","v":3},{"p":"D1","g":"40-49","d":"2021-06-07","v":8},{"p":"D1","g":"40-49","d":"2021-06-21","v":20},{"p":"D1","g":"40-49","d":"2021-07-05","v":55},{"p":"D1","g":"40-49","d":"2021-07-19","v":40},{"p":"D1","g":"40-49","d":"2021-08-02","v":25},{"p":"D1","g":"40-49","d":"2021-08-16","v":25},{"p":"D1","g":"40-49","d":"2021-08-30","v":90},{"p":"D1","g":"40-49","d":"2021-09-06","v":130},{"p":"D1","g":"40-49","d":"2021-09-13","v":85},{"p":"D1","g":"40-49","d":"2021-09-27","v":55},{"p":"D1","g":"40-49","d":"2021-10-11","v":45},{"p":"D1","g":"40-49","d":"2021-10-25","v":45},{"p":"D1","g":"40-49","d":"2021-11-08","v":55},{"p":"D1","g":"40-49","d":"2021-11-22","v":60},{"p":"D1","g":"40-49","d":"2021-12-10","v":65},
{"p":"D1","g":"30-39","d":"2021-05-10","v":3},{"p":"D1","g":"30-39","d":"2021-06-07","v":10},{"p":"D1","g":"30-39","d":"2021-06-21","v":25},{"p":"D1","g":"30-39","d":"2021-07-05","v":60},{"p":"D1","g":"30-39","d":"2021-07-19","v":45},{"p":"D1","g":"30-39","d":"2021-08-02","v":30},{"p":"D1","g":"30-39","d":"2021-08-16","v":30},{"p":"D1","g":"30-39","d":"2021-08-30","v":100},{"p":"D1","g":"30-39","d":"2021-09-06","v":140},{"p":"D1","g":"30-39","d":"2021-09-13","v":90},{"p":"D1","g":"30-39","d":"2021-09-27","v":60},{"p":"D1","g":"30-39","d":"2021-10-11","v":50},{"p":"D1","g":"30-39","d":"2021-10-25","v":45},{"p":"D1","g":"30-39","d":"2021-11-08","v":55},{"p":"D1","g":"30-39","d":"2021-11-22","v":60},{"p":"D1","g":"30-39","d":"2021-12-10","v":70},
{"p":"D1","g":"16-29","d":"2021-05-10","v":5},{"p":"D1","g":"16-29","d":"2021-06-07","v":15},{"p":"D1","g":"16-29","d":"2021-06-21","v":30},{"p":"D1","g":"16-29","d":"2021-06-28","v":85},{"p":"D1","g":"16-29","d":"2021-07-05","v":105},{"p":"D1","g":"16-29","d":"2021-07-19","v":80},{"p":"D1","g":"16-29","d":"2021-08-02","v":40},{"p":"D1","g":"16-29","d":"2021-08-16","v":45},{"p":"D1","g":"16-29","d":"2021-08-23","v":150},{"p":"D1","g":"16-29","d":"2021-08-30","v":240},{"p":"D1","g":"16-29","d":"2021-09-06","v":200},{"p":"D1","g":"16-29","d":"2021-09-13","v":110},{"p":"D1","g":"16-29","d":"2021-09-27","v":70},{"p":"D1","g":"16-29","d":"2021-10-11","v":50},{"p":"D1","g":"16-29","d":"2021-10-25","v":45},{"p":"D1","g":"16-29","d":"2021-11-08","v":40},{"p":"D1","g":"16-29","d":"2021-11-22","v":40},{"p":"D1","g":"16-29","d":"2021-12-10","v":30},
{"p":"D1","g":"12-15","d":"2021-05-10","v":0},{"p":"D1","g":"12-15","d":"2021-08-30","v":0},{"p":"D1","g":"12-15","d":"2021-09-06","v":165},{"p":"D1","g":"12-15","d":"2021-09-13","v":120},{"p":"D1","g":"12-15","d":"2021-09-20","v":135},{"p":"D1","g":"12-15","d":"2021-09-27","v":80},{"p":"D1","g":"12-15","d":"2021-10-11","v":40},{"p":"D1","g":"12-15","d":"2021-10-25","v":35},{"p":"D1","g":"12-15","d":"2021-11-08","v":65},{"p":"D1","g":"12-15","d":"2021-11-22","v":75},{"p":"D1","g":"12-15","d":"2021-12-06","v":85},{"p":"D1","g":"12-15","d":"2021-12-10","v":95},
{"p":"D2","g":"80+","d":"2021-05-10","v":0},{"p":"D2","g":"80+","d":"2021-06-07","v":2},{"p":"D2","g":"80+","d":"2021-07-05","v":8},{"p":"D2","g":"80+","d":"2021-08-02","v":8},{"p":"D2","g":"80+","d":"2021-08-30","v":35},{"p":"D2","g":"80+","d":"2021-09-27","v":20},{"p":"D2","g":"80+","d":"2021-10-25","v":15},{"p":"D2","g":"80+","d":"2021-11-22","v":12},{"p":"D2","g":"80+","d":"2021-12-10","v":10},
{"p":"D2","g":"70-79","d":"2021-05-10","v":1},{"p":"D2","g":"70-79","d":"2021-06-07","v":2},{"p":"D2","g":"70-79","d":"2021-07-05","v":12},{"p":"D2","g":"70-79","d":"2021-08-02","v":10},{"p":"D2","g":"70-79","d":"2021-08-30","v":35},{"p":"D2","g":"70-79","d":"2021-09-27","v":25},{"p":"D2","g":"70-79","d":"2021-10-25","v":25},{"p":"D2","g":"70-79","d":"2021-11-22","v":25},{"p":"D2","g":"70-79","d":"2021-12-10","v":30},
{"p":"D2","g":"60-69","d":"2021-05-10","v":1},{"p":"D2","g":"60-69","d":"2021-06-07","v":3},{"p":"D2","g":"60-69","d":"2021-07-05","v":25},{"p":"D2","g":"60-69","d":"2021-08-02","v":12},{"p":"D2","g":"60-69","d":"2021-08-30","v":40},{"p":"D2","g":"60-69","d":"2021-09-27","v":30},{"p":"D2","g":"60-69","d":"2021-10-25","v":30},{"p":"D2","g":"60-69","d":"2021-11-22","v":35},{"p":"D2","g":"60-69","d":"2021-12-10","v":40},
{"p":"D2","g":"50-59","d":"2021-05-10","v":1},{"p":"D2","g":"50-59","d":"2021-06-07","v":3},{"p":"D2","g":"50-59","d":"2021-07-05","v":30},{"p":"D2","g":"50-59","d":"2021-08-02","v":15},{"p":"D2","g":"50-59","d":"2021-08-30","v":55},{"p":"D2","g":"50-59","d":"2021-09-27","v":40},{"p":"D2","g":"50-59","d":"2021-10-25","v":40},{"p":"D2","g":"50-59","d":"2021-11-22","v":45},{"p":"D2","g":"50-59","d":"2021-12-10","v":55},
{"p":"D2","g":"40-49","d":"2021-05-10","v":2},{"p":"D2","g":"40-49","d":"2021-06-07","v":5},{"p":"D2","g":"40-49","d":"2021-06-21","v":12},{"p":"D2","g":"40-49","d":"2021-07-05","v":50},{"p":"D2","g":"40-49","d":"2021-07-19","v":35},{"p":"D2","g":"40-49","d":"2021-08-02","v":20},{"p":"D2","g":"40-49","d":"2021-08-16","v":25},{"p":"D2","g":"40-49","d":"2021-08-30","v":95},{"p":"D2","g":"40-49","d":"2021-09-06","v":120},{"p":"D2","g":"40-49","d":"2021-09-13","v":80},{"p":"D2","g":"40-49","d":"2021-09-27","v":60},{"p":"D2","g":"40-49","d":"2021-10-11","v":55},{"p":"D2","g":"40-49","d":"2021-10-25","v":60},{"p":"D2","g":"40-49","d":"2021-11-08","v":70},{"p":"D2","g":"40-49","d":"2021-11-22","v":75},{"p":"D2","g":"40-49","d":"2021-12-10","v":85},
{"p":"D2","g":"30-39","d":"2021-05-10","v":2},{"p":"D2","g":"30-39","d":"2021-06-07","v":5},{"p":"D2","g":"30-39","d":"2021-06-21","v":12},{"p":"D2","g":"30-39","d":"2021-07-05","v":45},{"p":"D2","g":"30-39","d":"2021-07-19","v":35},{"p":"D2","g":"30-39","d":"2021-08-02","v":20},{"p":"D2","g":"30-39","d":"2021-08-16","v":25},{"p":"D2","g":"30-39","d":"2021-08-30","v":85},{"p":"D2","g":"30-39","d":"2021-09-06","v":80},{"p":"D2","g":"30-39","d":"2021-09-13","v":55},{"p":"D2","g":"30-39","d":"2021-09-27","v":40},{"p":"D2","g":"30-39","d":"2021-10-11","v":40},{"p":"D2","g":"30-39","d":"2021-10-25","v":40},{"p":"D2","g":"30-39","d":"2021-11-08","v":45},{"p":"D2","g":"30-39","d":"2021-11-22","v":50},{"p":"D2","g":"30-39","d":"2021-12-10","v":60},
{"p":"D2","g":"16-29","d":"2021-05-10","v":2},{"p":"D2","g":"16-29","d":"2021-06-07","v":5},{"p":"D2","g":"16-29","d":"2021-06-21","v":15},{"p":"D2","g":"16-29","d":"2021-07-05","v":75},{"p":"D2","g":"16-29","d":"2021-07-19","v":40},{"p":"D2","g":"16-29","d":"2021-08-02","v":25},{"p":"D2","g":"16-29","d":"2021-08-16","v":30},{"p":"D2","g":"16-29","d":"2021-08-30","v":145},{"p":"D2","g":"16-29","d":"2021-09-06","v":100},{"p":"D2","g":"16-29","d":"2021-09-13","v":60},{"p":"D2","g":"16-29","d":"2021-09-27","v":45},{"p":"D2","g":"16-29","d":"2021-10-11","v":40},{"p":"D2","g":"16-29","d":"2021-10-25","v":40},{"p":"D2","g":"16-29","d":"2021-11-08","v":40},{"p":"D2","g":"16-29","d":"2021-11-22","v":40},{"p":"D2","g":"16-29","d":"2021-12-10","v":45},
{"p":"D2","g":"12-15","d":"2021-09-13","v":0},{"p":"D2","g":"12-15","d":"2021-11-01","v":0},{"p":"D2","g":"12-15","d":"2021-11-08","v":25},{"p":"D2","g":"12-15","d":"2021-11-22","v":35},{"p":"D2","g":"12-15","d":"2021-12-06","v":20},{"p":"D2","g":"12-15","d":"2021-12-10","v":45}
],
"omi":[
{"d":"2021-11-15","g":"Possible","v":1},{"d":"2021-11-16","g":"Possible","v":1},{"d":"2021-11-17","g":"Possible","v":1},{"d":"2021-11-18","g":"Possible","v":1},{"d":"2021-11-19","g":"Possible","v":1},{"d":"2021-11-20","g":"Possible","v":1},{"d":"2021-11-21","g":"Possible","v":2},{"d":"2021-11-22","g":"Possible","v":2},{"d":"2021-11-23","g":"Possible","v":3},{"d":"2021-11-24","g":"Possible","v":4},{"d":"2021-11-25","g":"Possible","v":5},{"d":"2021-11-26","g":"Possible","v":7},{"d":"2021-11-27","g":"Possible","v":10},{"d":"2021-11-28","g":"Possible","v":14},{"d":"2021-11-29","g":"Possible","v":20},{"d":"2021-11-30","g":"Possible","v":28},{"d":"2021-12-01","g":"Possible","v":38},{"d":"2021-12-02","g":"Possible","v":50},{"d":"2021-12-03","g":"Possible","v":65},{"d":"2021-12-04","g":"Possible","v":80},{"d":"2021-12-05","g":"Possible","v":115},{"d":"2021-12-06","g":"Possible","v":270},{"d":"2021-12-07","g":"Possible","v":508},{"d":"2021-12-08","g":"Possible","v":768},
{"d":"2021-12-05","g":"Highly Probable","v":2},{"d":"2021-12-07","g":"Highly Probable","v":21},
{"d":"2021-11-15","g":"Confirmed","v":1},{"d":"2021-11-16","g":"Confirmed","v":1},{"d":"2021-11-17","g":"Confirmed","v":1},{"d":"2021-11-18","g":"Confirmed","v":2},{"d":"2021-11-19","g":"Confirmed","v":2},{"d":"2021-11-20","g":"Confirmed","v":3},{"d":"2021-11-21","g":"Confirmed","v":3},{"d":"2021-11-22","g":"Confirmed","v":4},{"d":"2021-11-23","g":"Confirmed","v":4},{"d":"2021-11-24","g":"Confirmed","v":5},{"d":"2021-11-25","g":"Confirmed","v":6},{"d":"2021-11-26","g":"Confirmed","v":7},{"d":"2021-11-27","g":"Confirmed","v":8},{"d":"2021-11-28","g":"Confirmed","v":10},{"d":"2021-11-29","g":"Confirmed","v":12},{"d":"2021-11-30","g":"Confirmed","v":12},{"d":"2021-12-01","g":"Confirmed","v":15},{"d":"2021-12-02","g":"Confirmed","v":16},{"d":"2021-12-03","g":"Confirmed","v":20},{"d":"2021-12-04","g":"Confirmed","v":20},{"d":"2021-12-05","g":"Confirmed","v":17},{"d":"2021-12-06","g":"Confirmed","v":26}
],
"omiprov":[{"d":"2021-12-09","v":754},{"d":"2021-12-10","v":728},{"d":"2021-12-11","v":556},{"d":"2021-12-12","v":5}],
"omicum":[
{"d":"2021-11-15","c":2,"s":"A"},{"d":"2021-11-16","c":4,"s":"A"},{"d":"2021-11-17","c":6,"s":"A"},{"d":"2021-11-18","c":9,"s":"A"},{"d":"2021-11-19","c":12,"s":"A"},{"d":"2021-11-20","c":16,"s":"A"},{"d":"2021-11-21","c":21,"s":"A"},{"d":"2021-11-22","c":27,"s":"A"},{"d":"2021-11-23","c":34,"s":"A"},{"d":"2021-11-24","c":43,"s":"A"},{"d":"2021-11-25","c":55,"s":"A"},{"d":"2021-11-26","c":68,"s":"A"},{"d":"2021-11-27","c":85,"s":"A"},{"d":"2021-11-28","c":105,"s":"A"},{"d":"2021-11-29","c":130,"s":"A"},{"d":"2021-11-30","c":165,"s":"A"},{"d":"2021-12-01","c":210,"s":"A"},{"d":"2021-12-02","c":265,"s":"A"},{"d":"2021-12-03","c":340,"s":"A"},{"d":"2021-12-04","c":450,"s":"A"},{"d":"2021-12-05","c":650,"s":"A"},{"d":"2021-12-06","c":1100,"s":"A"},{"d":"2021-12-07","c":1950,"s":"A"},{"d":"2021-12-08","c":2700,"s":"A"},{"d":"2021-12-09","c":3040,"s":"A"},
{"d":"2021-12-09","c":3040,"s":"B"},{"d":"2021-12-10","c":3640,"s":"B"},{"d":"2021-12-11","c":4235,"s":"B"},{"d":"2021-12-12","c":4252,"s":"B"}
]
},
"resolve":{"scale":{"x":"independent","y":"independent","color":"independent","fill":"independent","strokeDash":"independent"}},
"layer":[
{
"layer":[
{"data":{"values":[
{"k":"h","c":0,"c2":1,"r":0,"r2":1},{"k":"h","c":1,"c2":2,"r":0,"r2":1},{"k":"h","c":2,"c2":3,"r":0,"r2":1},
{"k":"b","c":0,"c2":1,"r":1,"r2":2},{"k":"b","c":1,"c2":2,"r":1,"r2":2},{"k":"b","c":2,"c2":3,"r":1,"r2":2},
{"k":"h","c":0,"c2":1,"r":2,"r2":3},{"k":"h","c":1,"c2":2,"r":2,"r2":3},{"k":"h","c":2,"c2":3,"r":2,"r2":3},
{"k":"b","c":0,"c2":1,"r":3,"r2":4},{"k":"b","c":1,"c2":2,"r":3,"r2":4},{"k":"b","c":2,"c2":3,"r":3,"r2":4}]},
"mark":{"type":"rect","stroke":"#c3c3c3","strokeWidth":2},
"encoding":{
"x":{"field":"c","type":"quantitative","scale":{"domain":[0,1,2,3],"range":[10,609,1434,2040],"nice":false,"zero":false},"axis":null},
"x2":{"field":"c2"},
"y":{"field":"r","type":"quantitative","scale":{"domain":[0,1,2,3,4],"range":[5,49,312,355,982],"nice":false,"zero":false},"axis":null},
"y2":{"field":"r2"},
"fill":{"field":"k","type":"nominal","scale":{"domain":["h","b"],"range":["#067d80","transparent"]},"legend":null}}},
{"data":{"values":[{"t":"PHSM⁵⁴","c":0,"r":0},{"t":"Schools & mitigation⁵⁵","c":1,"r":0},{"t":"Vaccination coverage⁵⁶","c":2,"r":0},{"t":"Infections by age group⁵⁷","c":0,"r":2},{"t":"Hospitalisations in children⁵⁸","c":1,"r":2},{"t":"Deaths by age group⁵⁹,⁶⁰","c":2,"r":2}]},
"mark":{"type":"text","align":"left","baseline":"alphabetic","dx":15,"dy":30.5,"font":"Noto Sans","fontSize":23,"color":"#ffffff"},
"encoding":{
"x":{"field":"c","type":"quantitative","scale":{"domain":[0,1,2,3],"range":[10,609,1434,2040],"nice":false,"zero":false},"axis":null},
"y":{"field":"r","type":"quantitative","scale":{"domain":[0,1,2,3,4],"range":[5,49,312,355,982],"nice":false,"zero":false},"axis":null},
"text":{"field":"t"}}},
{"data":{"values":[{"t":["Mandatory masks indoors, TTIQ, screening tests,","work from home encouraged, regular asymptomatic","lateral flow tests encouraged"]}]},
"mark":{"type":"text","align":"left","baseline":"alphabetic","dx":15,"dy":40,"font":"Noto Sans","fontSize":22.6,"lineHeight":27.7,"color":"#111111"},
"encoding":{"x":{"datum":0,"type":"quantitative","scale":{"domain":[0,1,2,3],"range":[10,609,1434,2040],"nice":false,"zero":false},"axis":null},"y":{"datum":1,"type":"quantitative","scale":{"domain":[0,1,2,3,4],"range":[5,49,312,355,982],"nice":false,"zero":false},"axis":null},"text":{"field":"t"}}},
{"data":{"values":[{"t":["Re-opened after summer holiday in mid-Sep 2021","Standard PHSM, cohorting, mask wearing recommended for adults and","students from year 7 onwards, twice-weekly RAT screening for staff and","secondary school students, vaccination of 16-17y commenced mid-Aug &","12-15y commenced mid-Sep 2021 (single dose)"]}]},
"mark":{"type":"text","align":"left","baseline":"alphabetic","dx":15,"dy":40.5,"font":"Noto Sans","fontSize":22,"lineHeight":27.7,"color":"#111111"},
"encoding":{"x":{"datum":1,"type":"quantitative","scale":{"domain":[0,1,2,3],"range":[10,609,1434,2040],"nice":false,"zero":false},"axis":null},"y":{"datum":1,"type":"quantitative","scale":{"domain":[0,1,2,3,4],"range":[5,49,312,355,982],"nice":false,"zero":false},"axis":null},"text":{"field":"t"}}},
{"data":{"values":[{"t":["Close contacts who are fully vaccinated or under 18.5y and produce a","negative PCR test result do not need to isolate"]}]},
"mark":{"type":"text","align":"left","baseline":"alphabetic","dx":15,"dy":195,"font":"Noto Sans","fontSize":22,"lineHeight":27.7,"color":"#111111"},
"encoding":{"x":{"datum":1,"type":"quantitative","scale":{"domain":[0,1,2,3],"range":[10,609,1434,2040],"nice":false,"zero":false},"axis":null},"y":{"datum":1,"type":"quantitative","scale":{"domain":[0,1,2,3,4],"range":[5,49,312,355,982],"nice":false,"zero":false},"axis":null},"text":{"field":"t"}}},
{"data":{"values":[{"t":["Third/booster dose for 40y+ and other high-risk individuals,","commenced Sep 2021."]}]},
"mark":{"type":"text","align":"left","baseline":"alphabetic","dx":28,"dy":206,"font":"Noto Sans","fontSize":17,"lineHeight":21,"color":"#111111"},
"encoding":{"x":{"datum":2,"type":"quantitative","scale":{"domain":[0,1,2,3],"range":[10,609,1434,2040],"nice":false,"zero":false},"axis":null},"y":{"datum":1,"type":"quantitative","scale":{"domain":[0,1,2,3,4],"range":[5,49,312,355,982],"nice":false,"zero":false},"axis":null},"text":{"field":"t"}}},
{"data":{"values":[{"t":"Hospital admissions related to COVID-19 (3-week rolling average)"}]},
"mark":{"type":"text","align":"left","baseline":"alphabetic","dx":25,"dy":38,"font":"Liberation Sans","fontSize":15.5,"color":"#333333"},
"encoding":{"x":{"datum":1,"type":"quantitative","scale":{"domain":[0,1,2,3],"range":[10,609,1434,2040],"nice":false,"zero":false},"axis":null},"y":{"datum":3,"type":"quantitative","scale":{"domain":[0,1,2,3,4],"range":[5,49,312,355,982],"nice":false,"zero":false},"axis":null},"text":{"field":"t"}}},
{"data":{"values":[{"t":["Any admitted child who is COVID-19 positive is included, so this","overestimates the number of children being admitted and needing","treatment for COVID-19"]}]},
"mark":{"type":"text","align":"left","baseline":"alphabetic","dx":15,"dy":372,"font":"Noto Sans","fontSize":22,"lineHeight":27.7,"color":"#111111"},
"encoding":{"x":{"datum":1,"type":"quantitative","scale":{"domain":[0,1,2,3],"range":[10,609,1434,2040],"nice":false,"zero":false},"axis":null},"y":{"datum":3,"type":"quantitative","scale":{"domain":[0,1,2,3,4],"range":[5,49,312,355,982],"nice":false,"zero":false},"axis":null},"text":{"field":"t"}}},
{"data":{"values":[{"t":"Figure 7: Deaths by age group (weekly total by week beginning, NRS)"}]},
"mark":{"type":"text","align":"left","baseline":"alphabetic","dx":27,"dy":29,"font":"Roboto","fontSize":17.5,"color":"#404040"},
"encoding":{"x":{"datum":2,"type":"quantitative","scale":{"domain":[0,1,2,3],"range":[10,609,1434,2040],"nice":false,"zero":false},"axis":null},"y":{"datum":3,"type":"quantitative","scale":{"domain":[0,1,2,3,4],"range":[5,49,312,355,982],"nice":false,"zero":false},"axis":null},"text":{"field":"t"}}},
{"data":{"values":[{"t":"Note: This graph has not been updated since report #2 (10 Dec 2021)"}]},
"mark":{"type":"text","align":"left","baseline":"alphabetic","dx":4,"dy":339,"font":"Noto Sans","fontStyle":"italic","fontSize":19,"color":"#111111"},
"encoding":{"x":{"datum":2,"type":"quantitative","scale":{"domain":[0,1,2,3],"range":[10,609,1434,2040],"nice":false,"zero":false},"axis":null},"y":{"datum":3,"type":"quantitative","scale":{"domain":[0,1,2,3,4],"range":[5,49,312,355,982],"nice":false,"zero":false},"axis":null},"text":{"field":"t"}}},
{"data":{"values":[{"t":["There have been 3 deaths due to COVID-19 in children","aged 0-14y throughout the pandemic"]}]},
"mark":{"type":"text","align":"left","baseline":"alphabetic","dx":5,"dy":397,"font":"Noto Sans","fontSize":22.2,"lineHeight":27.5,"color":"#111111"},
"encoding":{"x":{"datum":2,"type":"quantitative","scale":{"domain":[0,1,2,3],"range":[10,609,1434,2040],"nice":false,"zero":false},"axis":null},"y":{"datum":3,"type":"quantitative","scale":{"domain":[0,1,2,3,4],"range":[5,49,312,355,982],"nice":false,"zero":false},"axis":null},"text":{"field":"t"}}},
{"data":{"values":[{"t":["Figure 14: COVID-19 case rate per 100,000 individuals by vaccination status and age","group, seven-day rolling average from 10 May 2021 to 10 December 2021"]}]},
"mark":{"type":"text","align":"left","baseline":"alphabetic","dx":10,"dy":19,"font":"Liberation Sans","fontWeight":"bold","fontSize":8,"lineHeight":11,"color":"#7030a0"},
"encoding":{"x":{"datum":0,"type":"quantitative","scale":{"domain":[0,1,2,3],"range":[10,609,1434,2040],"nice":false,"zero":false},"axis":null},"y":{"datum":3,"type":"quantitative","scale":{"domain":[0,1,2,3,4],"range":[5,49,312,355,982],"nice":false,"zero":false},"axis":null},"text":{"field":"t"}}},
{"data":{"values":[{"t":["Figure 3: Confirmed Omicron variant of COVID-19 cases or highly probable or","possible cases under investigation by specimen date (n=4252), as of 12 December","2021 17h, Scotland"]}]},
"mark":{"type":"text","align":"left","baseline":"alphabetic","dx":10,"dy":383,"font":"Liberation Sans","fontWeight":"bold","fontSize":7.5,"lineHeight":9,"color":"#7030a0"},
"encoding":{"x":{"datum":0,"type":"quantitative","scale":{"domain":[0,1,2,3],"range":[10,609,1434,2040],"nice":false,"zero":false},"axis":null},"y":{"datum":3,"type":"quantitative","scale":{"domain":[0,1,2,3,4],"range":[5,49,312,355,982],"nice":false,"zero":false},"axis":null},"text":{"field":"t"}}},
{"data":{"values":[{"t":["* Data for the previous 4 reporting days are subject to revision as censoring times and processing lags result in incomplete reporting for","this period."]}]},
"mark":{"type":"text","align":"left","baseline":"alphabetic","dx":10,"dy":617,"font":"Liberation Sans","fontSize":4,"lineHeight":6,"color":"#333333"},
"encoding":{"x":{"datum":0,"type":"quantitative","scale":{"domain":[0,1,2,3],"range":[10,609,1434,2040],"nice":false,"zero":false},"axis":null},"y":{"datum":3,"type":"quantitative","scale":{"domain":[0,1,2,3,4],"range":[5,49,312,355,982],"nice":false,"zero":false},"axis":null},"text":{"field":"t"}}}
]
},
{
"layer":[
{"data":{"values":[{"c":0,"r":0,"t":"Age group"},{"c":1,"r":0,"t":"1ˢᵗ dose"},{"c":2,"r":0,"t":"2ⁿᵈ dose"},{"c":3,"r":0,"t":"3ʳᵈ/booster"},{"c":0,"r":1,"t":"(years)"},{"c":1,"r":1,"t":"(%)"},{"c":2,"r":1,"t":"(%)"},{"c":3,"r":1,"t":"(%)"}]},
"mark":{"type":"text","align":"left","baseline":"middle","font":"Noto Sans","fontSize":22,"fontWeight":"bold","color":"#111111"},
"encoding":{"x":{"field":"c","type":"quantitative","scale":{"domain":[0,1,2,3],"range":[1462,1612,1740,1869],"nice":false,"zero":false},"axis":null},"y":{"field":"r","type":"quantitative","scale":{"domain":[0,4],"range":[73,222],"nice":false,"zero":false},"axis":null},"text":{"field":"t"}}},
{"data":{"values":[{"c":0,"r":2,"t":"12+"},{"c":1,"r":2,"t":"91.3"},{"c":2,"r":2,"t":"83.3"},{"c":3,"r":2,"t":"48.4"},{"c":0,"r":3,"t":"12-15"},{"c":1,"r":3,"t":"62.0"},{"c":2,"r":3,"t":"3.0"},{"c":3,"r":3,"t":"0.4"},{"c":0,"r":4,"t":"16-17"},{"c":1,"r":4,"t":"79.2"},{"c":2,"r":4,"t":"31.8"},{"c":3,"r":4,"t":"3.1"}]},
"mark":{"type":"text","align":"left","baseline":"middle","font":"Noto Sans","fontSize":22,"color":"#111111"},
"encoding":{"x":{"field":"c","type":"quantitative","scale":{"domain":[0,1,2,3],"range":[1462,1612,1740,1869],"nice":false,"zero":false},"axis":null},"y":{"field":"r","type":"quantitative","scale":{"domain":[0,4],"range":[73,222],"nice":false,"zero":false},"axis":null},"text":{"field":"t"}}}
]
},
{
"layer":[
{"data":{"name":"hosp"},"transform":[{"lookup":"g","from":{"data":{"name":"ageorder"},"key":"g","fields":["o"]}}],"mark":{"type":"bar","width":10.5},
"encoding":{
"x":{"field":"d","type":"temporal","scale":{"type":"utc","domain":[{"year":2020,"month":11,"date":29,"utc":true},{"year":2021,"month":12,"date":4,"utc":true}],"range":[680,1325]},
"axis":{"orient":"bottom","offset":-321,"values":[{"year":2021,"month":1,"date":1,"utc":true},{"year":2021,"month":3,"date":1,"utc":true},{"year":2021,"month":5,"date":1,"utc":true},{"year":2021,"month":7,"date":1,"utc":true},{"year":2021,"month":9,"date":1,"utc":true},{"year":2021,"month":11,"date":1,"utc":true}],"format":"%b %Y","labelFont":"Open Sans","labelFontSize":9.5,"labelColor":"#444444","labelPadding":3,"ticks":false,"domain":true,"domainColor":"#777777","grid":false,"title":null}},
"y":{"field":"v","type":"quantitative","stack":"zero","scale":{"domain":[0,100],"range":[657,455],"nice":false,"zero":false},
"axis":{"orient":"left","offset":-680,"values":[0,20,40,60,80,100],"labelFont":"Open Sans","labelFontSize":9.5,"labelColor":"#444444","labelPadding":2,"ticks":false,"domain":false,"grid":true,"gridColor":"#eeeeee","title":["3-week rolling average (count) of","hospital admissions related to COVID-19"],"titleFont":"Open Sans","titleFontSize":9.5,"titleFontWeight":"normal","titleColor":"#444444","titleX":-35,"titleY":557,"titleAngle":270,"titleAlign":"center","titleBaseline":"top","titleLineHeight":11}},
"order":{"field":"o","type":"quantitative","sort":"ascending"},
"color":{"field":"g","type":"nominal","sort":["Age 0-1","Age 2-4","Age 5-11","Age 12-17","Age 18-19","Age 20-21"],
"scale":{"domain":["Age 0-1","Age 2-4","Age 5-11","Age 12-17","Age 18-19","Age 20-21"],"range":["#7fb8e6","#3b3386","#9a3d8f","#0a74d4","#9890a8","#1f7c78"]},
"legend":{"orient":"none","legendX":1343,"legendY":444,"title":null,"symbolType":"square","symbolSize":70,"labelFont":"Open Sans","labelFontSize":9,"labelColor":"#444444","rowPadding":2.4,"labelOffset":6}}}},
{"data":{"values":[{}]},"mark":{"type":"rect","fill":"#ffffff","stroke":"#dddddd","strokeWidth":1,"cornerRadius":3},
"encoding":{"x":{"datum":{"year":2020,"month":11,"date":2,"hours":15,"utc":true},"type":"temporal","scale":{"type":"utc","domain":[{"year":2020,"month":11,"date":29,"utc":true},{"year":2021,"month":12,"date":4,"utc":true}],"range":[680,1325]}},
"x2":{"datum":{"year":2021,"month":1,"date":4,"hours":17,"utc":true}},
"y":{"datum":126.2,"type":"quantitative","scale":{"domain":[0,100],"range":[657,455],"nice":false,"zero":false}},"y2":{"datum":115.3}}},
{"data":{"values":[{"t":"⬇ Download chart data"}]},"mark":{"type":"text","align":"left","baseline":"middle","font":"Liberation Sans","fontSize":9.5,"color":"#333333"},
"encoding":{"x":{"datum":{"year":2020,"month":11,"date":7,"hours":5,"utc":true},"type":"temporal","scale":{"type":"utc","domain":[{"year":2020,"month":11,"date":29,"utc":true},{"year":2021,"month":12,"date":4,"utc":true}],"range":[680,1325]}},
"y":{"datum":120.5,"type":"quantitative","scale":{"domain":[0,100],"range":[657,455],"nice":false,"zero":false}},"text":{"field":"t"}}}
]
},
{
"layer":[
{"data":{"name":"deaths"},"mark":{"type":"line","strokeWidth":2.6},
"encoding":{
"x":{"field":"d","type":"temporal","scale":{"type":"utc","domain":[{"year":2020,"month":3,"date":8,"utc":true},{"year":2021,"month":11,"date":18,"utc":true}],"range":[1491,2003]},
"axis":{"orient":"bottom","offset":-398,"values":[{"year":2020,"month":3,"date":9,"utc":true},{"year":2020,"month":4,"date":9,"utc":true},{"year":2020,"month":5,"date":9,"utc":true},{"year":2020,"month":6,"date":9,"utc":true},{"year":2020,"month":7,"date":9,"utc":true},{"year":2020,"month":8,"date":9,"utc":true},{"year":2020,"month":9,"date":9,"utc":true},{"year":2020,"month":10,"date":9,"utc":true},{"year":2020,"month":11,"date":9,"utc":true},{"year":2020,"month":12,"date":9,"utc":true},{"year":2021,"month":1,"date":9,"utc":true},{"year":2021,"month":2,"date":9,"utc":true},{"year":2021,"month":3,"date":9,"utc":true},{"year":2021,"month":4,"date":9,"utc":true},{"year":2021,"month":5,"date":9,"utc":true},{"year":2021,"month":6,"date":9,"utc":true},{"year":2021,"month":7,"date":9,"utc":true},{"year":2021,"month":8,"date":9,"utc":true},{"year":2021,"month":9,"date":9,"utc":true},{"year":2021,"month":10,"date":9,"utc":true},{"year":2021,"month":11,"date":9,"utc":true}],
"format":"%d/%m/%y","labelAngle":270,"labelFont":"Roboto","labelFontSize":12,"labelColor":"#595959","labelPadding":6,"labelOverlap":false,"ticks":false,"domain":true,"domainColor":"#d9d9d9","grid":false,"title":"Week Beginning","titleFont":"Roboto","titleFontSize":12,"titleFontWeight":"normal","titleColor":"#595959","titlePadding":4}},
"y":{"field":"v","type":"quantitative","scale":{"domain":[0,350],"range":[580,422],"nice":false,"zero":false},
"axis":{"orient":"left","offset":-1491,"values":[0,50,100,150,200,250,300,350],"labelFont":"Roboto","labelFontSize":10.5,"labelColor":"#595959","labelPadding":10,"ticks":false,"domain":false,"grid":true,"gridColor":"#d9d9d9","title":null}},
"color":{"field":"g","type":"nominal","sort":["Under 1 year","01-14","15-44","45-64","65-74","75-84","85+"],
"scale":{"domain":["Under 1 year","01-14","15-44","45-64","65-74","75-84","85+"],"range":["#5b9bd5","#ed7d31","#a5a5a5","#ffc000","#a8c9ec","#70ad47","#265d94"]},
"legend":{"orient":"none","legendX":1502,"legendY":649,"direction":"horizontal","title":null,"symbolType":"stroke","symbolSize":500,"symbolStrokeWidth":3,"labelFont":"Roboto","labelFontSize":9.5,"labelColor":"#595959","columnPadding":12,"labelOffset":2}}}},
{"data":{"values":[{}]},"mark":{"type":"rect","fill":"transparent","stroke":"#e0403a","strokeWidth":1.5},
"encoding":{"x":{"datum":{"year":2021,"month":8,"date":31,"utc":true},"type":"temporal","scale":{"type":"utc","domain":[{"year":2020,"month":3,"date":8,"utc":true},{"year":2021,"month":11,"date":18,"utc":true}],"range":[1491,2003]}},
"x2":{"datum":{"year":2021,"month":11,"date":21,"utc":true}},
"y":{"datum":-11,"type":"quantitative","scale":{"domain":[0,350],"range":[580,422],"nice":false,"zero":false}},"y2":{"datum":95}}},
{"data":{"values":[{}]},"mark":{"type":"rule","stroke":"#e8825f","strokeWidth":1},
"encoding":{"x":{"datum":{"year":2021,"month":8,"date":13,"utc":true},"type":"temporal","scale":{"type":"utc","domain":[{"year":2020,"month":3,"date":8,"utc":true},{"year":2021,"month":11,"date":18,"utc":true}],"range":[1491,2003]}},
"x2":{"datum":{"year":2021,"month":10,"date":9,"utc":true}},
"y":{"datum":173,"type":"quantitative","scale":{"domain":[0,350],"range":[580,422],"nice":false,"zero":false}},"y2":{"datum":95}}}
]
},
{
"layer":[
{"data":{"values":[{}]},"mark":{"type":"rect","fill":"#ffffff","stroke":"#e0403a","strokeWidth":1.5},
"encoding":{"x":{"datum":{"year":2021,"month":8,"date":14,"utc":true},"type":"temporal","scale":{"type":"utc","domain":[{"year":2021,"month":8,"date":31,"utc":true},{"year":2021,"month":11,"date":16,"utc":true}],"range":[1860,2000]}},
"x2":{"datum":{"year":2021,"month":11,"date":24,"utc":true}},
"y":{"datum":77,"type":"quantitative","scale":{"domain":[0,60],"range":[459,407],"nice":false,"zero":false}},"y2":{"datum":-48.5}}},
{"data":{"name":"deaths"},"transform":[{"filter":"time(datum.d) >= time('2021-08-31')"}],"mark":{"type":"line","strokeWidth":2},
"encoding":{
"x":{"field":"d","type":"temporal","scale":{"type":"utc","domain":[{"year":2021,"month":8,"date":31,"utc":true},{"year":2021,"month":11,"date":16,"utc":true}],"range":[1860,2000]},
"axis":{"orient":"bottom","offset":-519,"zindex":1,"values":[{"year":2021,"month":8,"date":31,"utc":true},{"year":2021,"month":9,"date":14,"utc":true},{"year":2021,"month":9,"date":28,"utc":true},{"year":2021,"month":10,"date":12,"utc":true},{"year":2021,"month":10,"date":26,"utc":true},{"year":2021,"month":11,"date":9,"utc":true}],"format":"%d/%m/%y","labelAngle":315,"labelFont":"Roboto","labelFontSize":9,"labelColor":"#595959","labelPadding":4,"labelOverlap":false,"ticks":false,"domain":true,"domainColor":"#d9d9d9","grid":false,"title":null}},
"y":{"field":"v","type":"quantitative","scale":{"domain":[0,60],"range":[459,407],"nice":false,"zero":false},
"axis":{"orient":"left","offset":-1860,"zindex":1,"values":[0,10,20,30,40,50,60],"labelFont":"Roboto","labelFontSize":9,"labelColor":"#595959","labelPadding":6,"ticks":false,"domain":false,"grid":true,"gridColor":"#d9d9d9","title":null}},
"color":{"field":"g","type":"nominal","scale":{"domain":["Under 1 year","01-14","15-44","45-64","65-74","75-84","85+"],"range":["#5b9bd5","#ed7d31","#a5a5a5","#ffc000","#a8c9ec","#70ad47","#265d94"]},"legend":null}}}
]
},
{
"resolve":{"scale":{"y":"independent"}},
"layer":[
{"layer":[
{"data":{"values":[{}]},"mark":{"type":"rule","stroke":"#d6d6d6","strokeWidth":4},
"encoding":{"x":{"datum":{"year":2021,"month":12,"date":10,"utc":true},"type":"temporal","scale":{"type":"utc","domain":[{"year":2021,"month":4,"date":30,"utc":true},{"year":2021,"month":12,"date":24,"utc":true}],"range":[51,390]}},
"y":{"datum":-15,"type":"quantitative","scale":{"domain":[-15,390],"range":[491,400],"nice":false,"zero":false}},"y2":{"datum":390}}},
{"data":{"values":[{}]},"mark":{"type":"rect","fill":"#ffffff","stroke":"#333333","strokeWidth":0.6},
"encoding":{"x":{"datum":{"year":2021,"month":12,"date":22,"utc":true},"type":"temporal","scale":{"type":"utc","domain":[{"year":2021,"month":4,"date":30,"utc":true},{"year":2021,"month":12,"date":24,"utc":true}],"range":[51,390]}},
"x2":{"datum":{"year":2021,"month":12,"date":26,"utc":true}},
"y":{"datum":395,"type":"quantitative","scale":{"domain":[-15,390],"range":[491,400],"nice":false,"zero":false}},"y2":{"datum":-20}}},
{"data":{"values":[{"t":"Unvaccinated"}]},"mark":{"type":"text","angle":90,"align":"center","baseline":"middle","fontSize":3.5,"font":"Liberation Sans","color":"#333333"},
"encoding":{"x":{"datum":{"year":2021,"month":12,"date":24,"utc":true},"type":"temporal","scale":{"type":"utc","domain":[{"year":2021,"month":4,"date":30,"utc":true},{"year":2021,"month":12,"date":24,"utc":true}],"range":[51,390]}},
"y":{"datum":190,"type":"quantitative","scale":{"domain":[-15,390],"range":[491,400],"nice":false,"zero":false}},"text":{"field":"t"}}},
{"data":{"name":"inf"},"transform":[{"filter":"datum.p == 'U'"}],"mark":{"type":"line","strokeWidth":1.1},
"encoding":{"x":{"field":"d","type":"temporal","scale":{"type":"utc","domain":[{"year":2021,"month":4,"date":30,"utc":true},{"year":2021,"month":12,"date":24,"utc":true}],"range":[51,390]}},
"y":{"field":"v","type":"quantitative","scale":{"domain":[-15,390],"range":[491,400],"nice":false,"zero":false},"axis":{"orient":"left","offset":-51,"values":[0,100,200,300],"labelFontSize":3.8,"labelFont":"Liberation Sans","labelColor":"#555555","labelPadding":1,"tickSize":1.5,"tickColor":"#444444","domainColor":"#444444","domainWidth":0.6,"grid":false,"title":null}},
"color":{"field":"g","type":"nominal","scale":{"domain":["12-15","30-39","50-59","70-79","16-29","40-49","60-69","80+"],"range":["#4d4f91","#3a79c8","#b4b8c9","#5e6a86","#b35fb3","#8dc63f","#2e9e9a","#d9472b"]},
"legend":{"orient":"none","legendX":150,"legendY":703,"title":"Age group","titleOrient":"left","titleFontSize":4.5,"titleFontWeight":"normal","titleColor":"#444444","titleFont":"Liberation Sans","direction":"horizontal","columns":4,"symbolType":"stroke","symbolSize":49,"symbolStrokeWidth":1.5,"labelFontSize":3.8,"labelFont":"Liberation Sans","labelColor":"#444444","rowPadding":2,"columnPadding":6,"labelOffset":2}}}}
]},
{"layer":[
{"data":{"values":[{}]},"mark":{"type":"rule","stroke":"#d6d6d6","strokeWidth":4},
"encoding":{"x":{"datum":{"year":2021,"month":12,"date":10,"utc":true},"type":"temporal","scale":{"type":"utc","domain":[{"year":2021,"month":4,"date":30,"utc":true},{"year":2021,"month":12,"date":24,"utc":true}],"range":[51,390]}},
"y":{"datum":-15,"type":"quantitative","scale":{"domain":[-15,390],"range":[588,497],"nice":false,"zero":false}},"y2":{"datum":390}}},
{"data":{"values":[{}]},"mark":{"type":"rect","fill":"#ffffff","stroke":"#333333","strokeWidth":0.6},
"encoding":{"x":{"datum":{"year":2021,"month":12,"date":22,"utc":true},"type":"temporal","scale":{"type":"utc","domain":[{"year":2021,"month":4,"date":30,"utc":true},{"year":2021,"month":12,"date":24,"utc":true}],"range":[51,390]}},
"x2":{"datum":{"year":2021,"month":12,"date":26,"utc":true}},
"y":{"datum":395,"type":"quantitative","scale":{"domain":[-15,390],"range":[588,497],"nice":false,"zero":false}},"y2":{"datum":-20}}},
{"data":{"values":[{"t":"1 dose"}]},"mark":{"type":"text","angle":90,"align":"center","baseline":"middle","fontSize":3.5,"font":"Liberation Sans","color":"#333333"},
"encoding":{"x":{"datum":{"year":2021,"month":12,"date":24,"utc":true},"type":"temporal","scale":{"type":"utc","domain":[{"year":2021,"month":4,"date":30,"utc":true},{"year":2021,"month":12,"date":24,"utc":true}],"range":[51,390]}},
"y":{"datum":190,"type":"quantitative","scale":{"domain":[-15,390],"range":[588,497],"nice":false,"zero":false}},"text":{"field":"t"}}},
{"data":{"name":"inf"},"transform":[{"filter":"datum.p == 'D1'"}],"mark":{"type":"line","strokeWidth":1.1},
"encoding":{"x":{"field":"d","type":"temporal","scale":{"type":"utc","domain":[{"year":2021,"month":4,"date":30,"utc":true},{"year":2021,"month":12,"date":24,"utc":true}],"range":[51,390]}},
"y":{"field":"v","type":"quantitative","scale":{"domain":[-15,390],"range":[588,497],"nice":false,"zero":false},"axis":{"orient":"left","offset":-51,"values":[0,100,200,300],"labelFontSize":3.8,"labelFont":"Liberation Sans","labelColor":"#555555","labelPadding":1,"tickSize":1.5,"tickColor":"#444444","domainColor":"#444444","domainWidth":0.6,"grid":false,
"title":["Case rate of individuals with a COVID-19 positive PCR test per 100,000 individuals","eligible for vaccination (7 day rolling average)"],"titleFontSize":3.8,"titleFont":"Liberation Sans","titleFontWeight":"normal","titleColor":"#444444","titlePadding":3,"titleLineHeight":5}},
"color":{"field":"g","type":"nominal","scale":{"domain":["12-15","30-39","50-59","70-79","16-29","40-49","60-69","80+"],"range":["#4d4f91","#3a79c8","#b4b8c9","#5e6a86","#b35fb3","#8dc63f","#2e9e9a","#d9472b"]}}}}
]},
{"layer":[
{"data":{"values":[{}]},"mark":{"type":"rule","stroke":"#d6d6d6","strokeWidth":4},
"encoding":{"x":{"datum":{"year":2021,"month":12,"date":10,"utc":true},"type":"temporal","scale":{"type":"utc","domain":[{"year":2021,"month":4,"date":30,"utc":true},{"year":2021,"month":12,"date":24,"utc":true}],"range":[51,390]}},
"y":{"datum":-15,"type":"quantitative","scale":{"domain":[-15,390],"range":[684,593],"nice":false,"zero":false}},"y2":{"datum":390}}},
{"data":{"values":[{}]},"mark":{"type":"rect","fill":"#ffffff","stroke":"#333333","strokeWidth":0.6},
"encoding":{"x":{"datum":{"year":2021,"month":12,"date":22,"utc":true},"type":"temporal","scale":{"type":"utc","domain":[{"year":2021,"month":4,"date":30,"utc":true},{"year":2021,"month":12,"date":24,"utc":true}],"range":[51,390]}},
"x2":{"datum":{"year":2021,"month":12,"date":26,"utc":true}},
"y":{"datum":395,"type":"quantitative","scale":{"domain":[-15,390],"range":[684,593],"nice":false,"zero":false}},"y2":{"datum":-20}}},
{"data":{"values":[{"t":"2 doses"}]},"mark":{"type":"text","angle":90,"align":"center","baseline":"middle","fontSize":3.5,"font":"Liberation Sans","color":"#333333"},
"encoding":{"x":{"datum":{"year":2021,"month":12,"date":24,"utc":true},"type":"temporal","scale":{"type":"utc","domain":[{"year":2021,"month":4,"date":30,"utc":true},{"year":2021,"month":12,"date":24,"utc":true}],"range":[51,390]}},
"y":{"datum":190,"type":"quantitative","scale":{"domain":[-15,390],"range":[684,593],"nice":false,"zero":false}},"text":{"field":"t"}}},
{"data":{"name":"inf"},"transform":[{"filter":"datum.p == 'D2'"}],"mark":{"type":"line","strokeWidth":1.1},
"encoding":{"x":{"field":"d","type":"temporal","scale":{"type":"utc","domain":[{"year":2021,"month":4,"date":30,"utc":true},{"year":2021,"month":12,"date":24,"utc":true}],"range":[51,390]},
"axis":{"orient":"bottom","offset":-294,"values":[{"year":2021,"month":5,"date":10,"utc":true},{"year":2021,"month":5,"date":24,"utc":true},{"year":2021,"month":6,"date":7,"utc":true},{"year":2021,"month":6,"date":21,"utc":true},{"year":2021,"month":7,"date":5,"utc":true},{"year":2021,"month":7,"date":19,"utc":true},{"year":2021,"month":8,"date":2,"utc":true},{"year":2021,"month":8,"date":16,"utc":true},{"year":2021,"month":8,"date":30,"utc":true},{"year":2021,"month":9,"date":13,"utc":true},{"year":2021,"month":9,"date":27,"utc":true},{"year":2021,"month":10,"date":11,"utc":true},{"year":2021,"month":10,"date":25,"utc":true},{"year":2021,"month":11,"date":8,"utc":true},{"year":2021,"month":11,"date":22,"utc":true},{"year":2021,"month":12,"date":6,"utc":true},{"year":2021,"month":12,"date":20,"utc":true}],"format":"%d%b","labelFontSize":3.8,"labelFont":"Liberation Sans","labelColor":"#555555","labelPadding":2,"labelOverlap":false,"tickSize":1.5,"tickColor":"#444444","domainColor":"#888888","domainWidth":0.5,"grid":false,"title":"Positive sample date","titleFontSize":4.5,"titleFont":"Liberation Sans","titleColor":"#333333","titlePadding":0}},
"y":{"field":"v","type":"quantitative","scale":{"domain":[-15,390],"range":[684,593],"nice":false,"zero":false},"axis":{"orient":"left","offset":-51,"values":[0,100,200,300],"labelFontSize":3.8,"labelFont":"Liberation Sans","labelColor":"#555555","labelPadding":1,"tickSize":1.5,"tickColor":"#444444","domainColor":"#444444","domainWidth":0.6,"grid":false,"title":null}},
"color":{"field":"g","type":"nominal","scale":{"domain":["12-15","30-39","50-59","70-79","16-29","40-49","60-69","80+"],"range":["#4d4f91","#3a79c8","#b4b8c9","#5e6a86","#b35fb3","#8dc63f","#2e9e9a","#d9472b"]}}}}
]}
]
},
{
"resolve":{"scale":{"y":"independent"}},
"layer":[
{"data":{"values":[{}]},"mark":{"type":"rect","fill":"transparent","stroke":"#d9d9d9","strokeWidth":1},
"encoding":{"x":{"datum":{"year":2021,"month":11,"date":10,"hours":2,"utc":true},"type":"temporal","scale":{"type":"utc","domain":[{"year":2021,"month":11,"date":14,"hours":1,"utc":true},{"year":2021,"month":12,"date":12,"hours":23,"utc":true}],"range":[51.3,278.7]}},
"x2":{"datum":{"year":2021,"month":12,"date":17,"hours":14,"utc":true}},
"y":{"datum":955,"type":"quantitative","scale":{"domain":[0,900],"range":[887,773],"nice":false,"zero":false},"axis":null},"y2":{"datum":-584}}},
{"data":{"name":"omi"},"mark":{"type":"bar","width":6.2},
"encoding":{"x":{"field":"d","type":"temporal","scale":{"type":"utc","domain":[{"year":2021,"month":11,"date":14,"hours":1,"utc":true},{"year":2021,"month":12,"date":12,"hours":23,"utc":true}],"range":[51.3,278.7]},
"axis":{"orient":"bottom","offset":-91,"tickCount":{"interval":"day","step":1},"format":"%d/%m/%Y","labelExpr":"datum.label + (datum.value >= utc(2021,11,9) ? ' **' : '')","labelAngle":270,"labelFontSize":3.8,"labelFont":"Liberation Sans","labelColor":"#595959","labelPadding":3,"labelOverlap":false,"ticks":false,"domain":true,"domainColor":"#bfbfbf","grid":false,"title":"Specimen date*","titleFontSize":5.5,"titleFont":"Liberation Sans","titleFontWeight":"normal","titleColor":"#595959","titlePadding":3}},
"y":{"field":"v","type":"quantitative","stack":"zero","scale":{"domain":[0,900],"range":[887,773],"nice":false,"zero":false},
"axis":{"orient":"left","offset":-55,"values":[0,100,200,300,400,500,600,700,800,900],"labelFontSize":5,"labelFont":"Liberation Sans","labelColor":"#595959","labelPadding":6,"ticks":false,"domain":false,"grid":false,"title":"Cases (number)","titleFontSize":5.5,"titleFont":"Liberation Sans","titleFontWeight":"normal","titleColor":"#595959","titlePadding":6}},
"order":{"field":"g","type":"nominal","sort":"descending"},
"color":{"field":"g","type":"nominal","sort":["Possible","Highly Probable","Confirmed","Cumulative cases"],"scale":{"domain":["Possible","Highly Probable","Confirmed","Cumulative cases"],"range":["#7030a0","#92d050","#00b0f0","#000000"]},
"legend":{"orient":"none","legendX":50,"legendY":947,"direction":"horizontal","title":null,"symbolType":"square","symbolSize":30,"labelFontSize":5,"labelFont":"Liberation Sans","labelColor":"#595959","columnPadding":12,"labelOffset":2}}}},
{"data":{"name":"omiprov"},"mark":{"type":"bar","width":6.2,"color":"#e9e6de","stroke":"#8c8c8c","strokeWidth":0.5},
"encoding":{"x":{"field":"d","type":"temporal","scale":{"type":"utc","domain":[{"year":2021,"month":11,"date":14,"hours":1,"utc":true},{"year":2021,"month":12,"date":12,"hours":23,"utc":true}],"range":[51.3,278.7]}},
"y":{"field":"v","type":"quantitative","scale":{"domain":[0,900],"range":[887,773],"nice":false,"zero":false},"axis":null}}},
{"data":{"name":"omicum"},"mark":{"type":"line","strokeWidth":1.3},
"encoding":{"x":{"field":"d","type":"temporal","scale":{"type":"utc","domain":[{"year":2021,"month":11,"date":14,"hours":1,"utc":true},{"year":2021,"month":12,"date":12,"hours":23,"utc":true}],"range":[51.3,278.7]}},
"y":{"field":"c","type":"quantitative","scale":{"domain":[0,4500],"range":[887,773],"nice":false,"zero":false},
"axis":{"orient":"right","offset":-1761,"values":[0,500,1000,1500,2000,2500,3000,3500,4000,4500],"format":"d","labelFontSize":5,"labelFont":"Liberation Sans","labelColor":"#595959","labelPadding":7,"ticks":false,"domain":false,"grid":false,"title":"Cumulative cases (number)","titleFontSize":5.5,"titleFont":"Liberation Sans","titleFontWeight":"normal","titleColor":"#595959","titlePadding":5}},
"color":{"datum":"Cumulative cases","type":"nominal","scale":{"domain":["Possible","Highly Probable","Confirmed","Cumulative cases"],"range":["#7030a0","#92d050","#00b0f0","#000000"]}},
"strokeDash":{"field":"s","type":"nominal","scale":{"domain":["A","B"],"range":[[1,0],[2.5,1.5]]},"legend":null}}},
{"data":{"name":"omicum"},"transform":[{"filter":"datum.s == 'B'"}],"mark":{"type":"point","filled":true,"size":5,"opacity":1},
"encoding":{"x":{"field":"d","type":"temporal","scale":{"type":"utc","domain":[{"year":2021,"month":11,"date":14,"hours":1,"utc":true},{"year":2021,"month":12,"date":12,"hours":23,"utc":true}],"range":[51.3,278.7]}},
"y":{"field":"c","type":"quantitative","scale":{"domain":[0,4500],"range":[887,773],"nice":false,"zero":false},"axis":null},
"color":{"datum":"Cumulative cases","type":"nominal","scale":{"domain":["Possible","Highly Probable","Confirmed","Cumulative cases"],"range":["#7030a0","#92d050","#00b0f0","#000000"]}}}}
]
}
]
}
